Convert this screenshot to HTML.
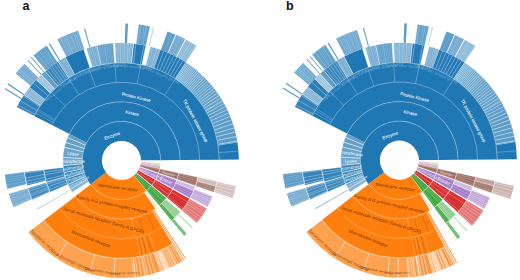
<!DOCTYPE html>
<html><head><meta charset="utf-8"><style>
html,body{margin:0;padding:0;background:#fff;}
body{width:520px;height:280px;overflow:hidden;font-family:"Liberation Sans",sans-serif;}
svg{display:block}
</style></head><body>
<svg width="520" height="280" viewBox="0 0 520 280">
<rect width="520" height="280" fill="#fff"/>
<path d="M90.48,184.44A39.14,39.14 0 1 1 160.59,160.19L141.02,160.35A19.57,19.57 0 1 0 105.97,172.47Z" fill="#1f77b4"/>
<path d="M69.14,133.85A58.71,58.71 0 0 1 180.16,160.04L160.59,160.19A39.14,39.14 0 0 0 86.58,142.73Z" fill="#1f77b4"/>
<path d="M67.41,137.56A58.71,58.71 0 0 1 69.14,133.85L86.58,142.73A39.14,39.14 0 0 0 85.42,145.21Z" fill="#62a0ca"/>
<path d="M65.61,142.36A58.71,58.71 0 0 1 67.41,137.56L85.42,145.21A39.14,39.14 0 0 0 84.23,148.41Z" fill="#62a0ca"/>
<path d="M64.24,147.29A58.71,58.71 0 0 1 65.61,142.36L84.23,148.41A39.14,39.14 0 0 0 83.31,151.70Z" fill="#62a0ca"/>
<path d="M62.82,157.43A58.71,58.71 0 0 1 64.24,147.29L83.31,151.70A39.14,39.14 0 0 0 82.36,158.45Z" fill="#69a4cd"/>
<path d="M62.96,165.62A58.71,58.71 0 0 1 62.82,157.43L82.36,158.45A39.14,39.14 0 0 0 82.46,163.91Z" fill="#70a8cf"/>
<path d="M64.02,172.71A58.71,58.71 0 0 1 62.96,165.62L82.46,163.91A39.14,39.14 0 0 0 83.17,168.64Z" fill="#3a87bd"/>
<path d="M65.61,178.64A58.71,58.71 0 0 1 64.02,172.71L83.17,168.64A39.14,39.14 0 0 0 84.23,172.59Z" fill="#3585bc"/>
<path d="M67.82,184.38A58.71,58.71 0 0 1 65.61,178.64L84.23,172.59A39.14,39.14 0 0 0 85.69,176.42Z" fill="#3e8abe"/>
<path d="M70.10,188.96A58.71,58.71 0 0 1 67.82,184.38L85.69,176.42A39.14,39.14 0 0 0 87.22,179.48Z" fill="#62a0ca"/>
<path d="M72.21,192.48A58.71,58.71 0 0 1 70.10,188.96L87.22,179.48A39.14,39.14 0 0 0 88.62,181.82Z" fill="#84b4d6"/>
<line x1="85.42" y1="145.21" x2="67.41" y2="137.56" stroke="#fff" stroke-width="0.6"/>
<line x1="84.23" y1="148.41" x2="65.61" y2="142.36" stroke="#fff" stroke-width="0.6"/>
<line x1="83.31" y1="151.70" x2="64.24" y2="147.29" stroke="#fff" stroke-width="0.6"/>
<line x1="82.36" y1="158.45" x2="62.82" y2="157.43" stroke="#fff" stroke-width="0.6"/>
<line x1="82.46" y1="163.91" x2="62.96" y2="165.62" stroke="#fff" stroke-width="0.6"/>
<line x1="83.17" y1="168.64" x2="64.02" y2="172.71" stroke="#fff" stroke-width="0.6"/>
<line x1="84.23" y1="172.59" x2="65.61" y2="178.64" stroke="#fff" stroke-width="0.6"/>
<line x1="85.69" y1="176.42" x2="67.82" y2="184.38" stroke="#fff" stroke-width="0.6"/>
<line x1="87.22" y1="179.48" x2="70.10" y2="188.96" stroke="#fff" stroke-width="0.6"/>
<line x1="88.62" y1="181.82" x2="72.21" y2="192.48" stroke="#fff" stroke-width="0.6"/>
<path d="M34.27,116.08A97.85,97.85 0 0 1 219.30,159.73L180.16,160.04A58.71,58.71 0 0 0 69.14,133.85Z" fill="#1f77b4"/>
<line x1="52.98" y1="122.55" x2="35.87" y2="113.06" stroke="#9ac2dd" stroke-width="0.4"/>
<line x1="54.00" y1="120.77" x2="37.14" y2="110.84" stroke="#9ac2dd" stroke-width="0.4"/>
<line x1="54.78" y1="119.48" x2="38.11" y2="109.23" stroke="#9ac2dd" stroke-width="0.4"/>
<line x1="65.33" y1="105.93" x2="51.30" y2="92.28" stroke="#9ac2dd" stroke-width="0.5"/>
<line x1="79.05" y1="94.70" x2="68.44" y2="78.25" stroke="#9ac2dd" stroke-width="0.5"/>
<line x1="95.45" y1="86.66" x2="88.95" y2="68.21" stroke="#9ac2dd" stroke-width="0.5"/>
<line x1="116.26" y1="82.39" x2="114.97" y2="62.87" stroke="#9ac2dd" stroke-width="0.5"/>
<line x1="137.06" y1="83.79" x2="140.96" y2="64.61" stroke="#9ac2dd" stroke-width="0.5"/>
<line x1="164.66" y1="95.22" x2="175.46" y2="78.90" stroke="#9ac2dd" stroke-width="0.5"/>
<path d="M16.83,107.19A117.42,117.42 0 0 1 24.10,94.84L40.33,105.78A97.85,97.85 0 0 0 34.27,116.08Z" fill="#3182ba"/>
<line x1="35.14" y1="114.39" x2="17.88" y2="105.17" stroke="#aacbe2" stroke-width="0.55"/>
<line x1="37.20" y1="110.73" x2="20.35" y2="100.78" stroke="#aacbe2" stroke-width="0.55"/>
<line x1="39.69" y1="106.74" x2="23.34" y2="95.99" stroke="#aacbe2" stroke-width="0.55"/>
<line x1="34.27" y1="116.08" x2="16.83" y2="107.19" stroke="#fff" stroke-width="0.35"/>
<line x1="40.33" y1="105.78" x2="24.10" y2="94.84" stroke="#fff" stroke-width="0.35"/>
<path d="M24.10,94.84A117.42,117.42 0 0 1 29.56,87.40L44.87,99.59A97.85,97.85 0 0 0 40.33,105.78Z" fill="#9cc3de"/>
<line x1="40.75" y1="105.17" x2="24.61" y2="94.10" stroke="#69a4cd" stroke-width="0.55"/>
<line x1="41.64" y1="103.88" x2="25.68" y2="92.56" stroke="#69a4cd" stroke-width="0.55"/>
<line x1="42.58" y1="102.59" x2="26.80" y2="91.00" stroke="#69a4cd" stroke-width="0.55"/>
<line x1="43.31" y1="101.60" x2="27.68" y2="89.82" stroke="#69a4cd" stroke-width="0.55"/>
<line x1="44.40" y1="100.18" x2="28.99" y2="88.12" stroke="#69a4cd" stroke-width="0.55"/>
<line x1="40.33" y1="105.78" x2="24.10" y2="94.84" stroke="#fff" stroke-width="0.35"/>
<line x1="44.87" y1="99.59" x2="29.56" y2="87.40" stroke="#fff" stroke-width="0.35"/>
<path d="M29.56,87.40A117.42,117.42 0 0 1 36.28,79.67L50.47,93.14A97.85,97.85 0 0 0 44.87,99.59Z" fill="#2b7eb8"/>
<line x1="47.97" y1="95.89" x2="33.27" y2="82.96" stroke="#aacbe2" stroke-width="0.55"/>
<line x1="44.87" y1="99.59" x2="29.56" y2="87.40" stroke="#fff" stroke-width="0.35"/>
<line x1="50.47" y1="93.14" x2="36.28" y2="79.67" stroke="#fff" stroke-width="0.35"/>
<path d="M36.28,79.67A117.42,117.42 0 0 1 41.37,74.62L54.72,88.94A97.85,97.85 0 0 0 50.47,93.14Z" fill="#b3d1e6"/>
<line x1="51.14" y1="92.45" x2="37.08" y2="78.84" stroke="#7fb1d4" stroke-width="0.55"/>
<line x1="51.82" y1="91.75" x2="37.89" y2="78.00" stroke="#7fb1d4" stroke-width="0.55"/>
<line x1="52.99" y1="90.59" x2="39.30" y2="76.60" stroke="#7fb1d4" stroke-width="0.55"/>
<line x1="53.95" y1="89.66" x2="40.45" y2="75.49" stroke="#7fb1d4" stroke-width="0.55"/>
<line x1="50.47" y1="93.14" x2="36.28" y2="79.67" stroke="#fff" stroke-width="0.35"/>
<line x1="54.72" y1="88.94" x2="41.37" y2="74.62" stroke="#fff" stroke-width="0.35"/>
<path d="M41.37,74.62A117.42,117.42 0 0 1 45.19,71.21L57.90,86.09A97.85,97.85 0 0 0 54.72,88.94Z" fill="#70a8cf"/>
<line x1="55.40" y1="88.30" x2="42.19" y2="73.87" stroke="#3c89be" stroke-width="0.55"/>
<line x1="56.40" y1="87.41" x2="43.39" y2="72.79" stroke="#3c89be" stroke-width="0.55"/>
<line x1="57.12" y1="86.77" x2="44.25" y2="72.03" stroke="#3c89be" stroke-width="0.55"/>
<line x1="54.72" y1="88.94" x2="41.37" y2="74.62" stroke="#fff" stroke-width="0.35"/>
<line x1="57.90" y1="86.09" x2="45.19" y2="71.21" stroke="#fff" stroke-width="0.35"/>
<path d="M45.19,71.21A117.42,117.42 0 0 1 58.19,61.58L68.73,78.07A97.85,97.85 0 0 0 57.90,86.09Z" fill="#3886bc"/>
<line x1="59.44" y1="84.81" x2="47.03" y2="69.67" stroke="#aacbe2" stroke-width="0.55"/>
<line x1="61.53" y1="83.14" x2="49.54" y2="67.67" stroke="#aacbe2" stroke-width="0.55"/>
<line x1="63.34" y1="81.77" x2="51.72" y2="66.02" stroke="#aacbe2" stroke-width="0.55"/>
<line x1="65.50" y1="80.23" x2="54.30" y2="64.17" stroke="#aacbe2" stroke-width="0.55"/>
<line x1="67.21" y1="79.06" x2="56.37" y2="62.77" stroke="#aacbe2" stroke-width="0.55"/>
<line x1="57.90" y1="86.09" x2="45.19" y2="71.21" stroke="#fff" stroke-width="0.35"/>
<line x1="68.73" y1="78.07" x2="58.19" y2="61.58" stroke="#fff" stroke-width="0.35"/>
<path d="M58.19,61.58A117.42,117.42 0 0 1 65.42,57.31L74.76,74.51A97.85,97.85 0 0 0 68.73,78.07Z" fill="#91bcda"/>
<line x1="69.04" y1="77.87" x2="58.55" y2="61.35" stroke="#5e9dc9" stroke-width="0.55"/>
<line x1="70.53" y1="76.94" x2="60.35" y2="60.23" stroke="#5e9dc9" stroke-width="0.55"/>
<line x1="71.45" y1="76.39" x2="61.45" y2="59.57" stroke="#5e9dc9" stroke-width="0.55"/>
<line x1="72.74" y1="75.64" x2="62.99" y2="58.67" stroke="#5e9dc9" stroke-width="0.55"/>
<line x1="73.99" y1="74.93" x2="64.50" y2="57.82" stroke="#5e9dc9" stroke-width="0.55"/>
<line x1="68.73" y1="78.07" x2="58.19" y2="61.58" stroke="#fff" stroke-width="0.35"/>
<line x1="74.76" y1="74.51" x2="65.42" y2="57.31" stroke="#fff" stroke-width="0.35"/>
<path d="M65.42,57.31A117.42,117.42 0 0 1 83.61,49.34L89.92,67.87A97.85,97.85 0 0 0 74.76,74.51Z" fill="#1f77b4"/>
<line x1="74.76" y1="74.51" x2="65.42" y2="57.31" stroke="#fff" stroke-width="0.35"/>
<line x1="89.92" y1="67.87" x2="83.61" y2="49.34" stroke="#fff" stroke-width="0.35"/>
<path d="M86.53,48.39A117.42,117.42 0 0 1 97.04,45.65L101.11,64.79A97.85,97.85 0 0 0 92.35,67.08Z" fill="#91bcda"/>
<line x1="92.73" y1="66.96" x2="86.99" y2="48.25" stroke="#5e9dc9" stroke-width="0.55"/>
<line x1="94.49" y1="66.44" x2="89.10" y2="47.62" stroke="#5e9dc9" stroke-width="0.55"/>
<line x1="95.93" y1="66.04" x2="90.83" y2="47.14" stroke="#5e9dc9" stroke-width="0.55"/>
<line x1="97.68" y1="65.58" x2="92.93" y2="46.60" stroke="#5e9dc9" stroke-width="0.55"/>
<line x1="98.91" y1="65.28" x2="94.40" y2="46.24" stroke="#5e9dc9" stroke-width="0.55"/>
<line x1="100.47" y1="64.93" x2="96.28" y2="45.81" stroke="#5e9dc9" stroke-width="0.55"/>
<line x1="92.35" y1="67.08" x2="86.53" y2="48.39" stroke="#fff" stroke-width="0.35"/>
<line x1="101.11" y1="64.79" x2="97.04" y2="45.65" stroke="#fff" stroke-width="0.35"/>
<path d="M97.04,45.65A117.42,117.42 0 0 1 113.26,43.37L114.62,62.89A97.85,97.85 0 0 0 101.11,64.79Z" fill="#7db0d4"/>
<line x1="101.85" y1="64.63" x2="97.93" y2="45.46" stroke="#4a91c2" stroke-width="0.55"/>
<line x1="103.46" y1="64.32" x2="99.86" y2="45.08" stroke="#4a91c2" stroke-width="0.55"/>
<line x1="104.80" y1="64.08" x2="101.47" y2="44.79" stroke="#4a91c2" stroke-width="0.55"/>
<line x1="106.16" y1="63.85" x2="103.11" y2="44.52" stroke="#4a91c2" stroke-width="0.55"/>
<line x1="108.21" y1="63.55" x2="105.56" y2="44.16" stroke="#4a91c2" stroke-width="0.55"/>
<line x1="109.71" y1="63.36" x2="107.36" y2="43.93" stroke="#4a91c2" stroke-width="0.55"/>
<line x1="111.10" y1="63.20" x2="109.03" y2="43.74" stroke="#4a91c2" stroke-width="0.55"/>
<line x1="112.51" y1="63.06" x2="110.72" y2="43.57" stroke="#4a91c2" stroke-width="0.55"/>
<line x1="113.73" y1="62.96" x2="112.18" y2="43.45" stroke="#4a91c2" stroke-width="0.55"/>
<line x1="101.11" y1="64.79" x2="97.04" y2="45.65" stroke="#fff" stroke-width="0.35"/>
<line x1="114.62" y1="62.89" x2="113.26" y2="43.37" stroke="#fff" stroke-width="0.35"/>
<path d="M114.90,43.26A117.42,117.42 0 0 1 133.72,43.72L131.68,63.19A97.85,97.85 0 0 0 115.99,62.80Z" fill="#9cc3de"/>
<line x1="116.56" y1="62.77" x2="115.58" y2="43.23" stroke="#69a4cd" stroke-width="0.55"/>
<line x1="118.18" y1="62.70" x2="117.52" y2="43.15" stroke="#69a4cd" stroke-width="0.55"/>
<line x1="119.58" y1="62.67" x2="119.20" y2="43.10" stroke="#69a4cd" stroke-width="0.55"/>
<line x1="121.69" y1="62.65" x2="121.74" y2="43.08" stroke="#69a4cd" stroke-width="0.55"/>
<line x1="122.98" y1="62.66" x2="123.28" y2="43.09" stroke="#69a4cd" stroke-width="0.55"/>
<line x1="124.90" y1="62.71" x2="125.59" y2="43.15" stroke="#69a4cd" stroke-width="0.55"/>
<line x1="126.11" y1="62.76" x2="127.04" y2="43.21" stroke="#69a4cd" stroke-width="0.55"/>
<line x1="128.12" y1="62.88" x2="129.46" y2="43.35" stroke="#69a4cd" stroke-width="0.55"/>
<line x1="129.60" y1="62.99" x2="131.23" y2="43.49" stroke="#69a4cd" stroke-width="0.55"/>
<line x1="130.51" y1="63.07" x2="132.32" y2="43.58" stroke="#69a4cd" stroke-width="0.55"/>
<line x1="115.99" y1="62.80" x2="114.90" y2="43.26" stroke="#fff" stroke-width="0.35"/>
<line x1="131.68" y1="63.19" x2="133.72" y2="43.72" stroke="#fff" stroke-width="0.35"/>
<path d="M133.72,43.72A117.42,117.42 0 0 1 145.86,45.65L141.79,64.79A97.85,97.85 0 0 0 131.68,63.19Z" fill="#247ab6"/>
<line x1="133.48" y1="63.39" x2="135.89" y2="43.97" stroke="#aacbe2" stroke-width="0.55"/>
<line x1="140.31" y1="64.49" x2="144.09" y2="45.28" stroke="#aacbe2" stroke-width="0.55"/>
<line x1="131.68" y1="63.19" x2="133.72" y2="43.72" stroke="#fff" stroke-width="0.35"/>
<line x1="141.79" y1="64.79" x2="145.86" y2="45.65" stroke="#fff" stroke-width="0.35"/>
<path d="M150.45,46.72A117.42,117.42 0 0 1 160.65,49.82L154.11,68.26A97.85,97.85 0 0 0 145.62,65.68Z" fill="#98c0dc"/>
<line x1="146.31" y1="65.86" x2="151.29" y2="46.93" stroke="#64a1cb" stroke-width="0.55"/>
<line x1="148.11" y1="66.35" x2="153.44" y2="47.52" stroke="#64a1cb" stroke-width="0.55"/>
<line x1="149.11" y1="66.64" x2="154.65" y2="47.87" stroke="#64a1cb" stroke-width="0.55"/>
<line x1="150.30" y1="67.00" x2="156.07" y2="48.30" stroke="#64a1cb" stroke-width="0.55"/>
<line x1="152.10" y1="67.58" x2="158.23" y2="48.99" stroke="#64a1cb" stroke-width="0.55"/>
<line x1="153.61" y1="68.09" x2="160.04" y2="49.60" stroke="#64a1cb" stroke-width="0.55"/>
<line x1="145.62" y1="65.68" x2="150.45" y2="46.72" stroke="#fff" stroke-width="0.35"/>
<line x1="154.11" y1="68.26" x2="160.65" y2="49.82" stroke="#fff" stroke-width="0.35"/>
<path d="M160.65,49.82A117.42,117.42 0 0 1 185.92,62.36L175.17,78.72A97.85,97.85 0 0 0 154.11,68.26Z" fill="#237ab6"/>
<line x1="156.83" y1="69.27" x2="163.91" y2="51.03" stroke="#bcd6e8" stroke-width="0.5"/>
<line x1="159.68" y1="70.43" x2="167.33" y2="52.41" stroke="#bcd6e8" stroke-width="0.5"/>
<line x1="162.49" y1="71.67" x2="170.70" y2="53.91" stroke="#bcd6e8" stroke-width="0.5"/>
<line x1="165.11" y1="72.93" x2="173.84" y2="55.42" stroke="#bcd6e8" stroke-width="0.5"/>
<line x1="167.69" y1="74.26" x2="176.94" y2="57.02" stroke="#bcd6e8" stroke-width="0.5"/>
<line x1="170.23" y1="75.67" x2="179.98" y2="58.71" stroke="#bcd6e8" stroke-width="0.5"/>
<line x1="172.72" y1="77.16" x2="182.98" y2="60.49" stroke="#bcd6e8" stroke-width="0.5"/>
<path d="M185.92,62.36A117.42,117.42 0 0 1 204.48,77.47L190.64,91.31A97.85,97.85 0 0 0 175.17,78.72Z" fill="#6ba5ce"/>
<path d="M204.48,77.47A117.42,117.42 0 0 1 223.14,101.79L206.19,111.57A97.85,97.85 0 0 0 190.64,91.31Z" fill="#62a0ca"/>
<path d="M223.14,101.79A117.42,117.42 0 0 1 237.42,142.13L218.10,145.19A97.85,97.85 0 0 0 206.19,111.57Z" fill="#5b9cc8"/>
<line x1="175.17" y1="78.72" x2="185.92" y2="62.36" stroke="#fff" stroke-width="0.45"/>
<line x1="176.11" y1="79.34" x2="187.04" y2="63.11" stroke="#fff" stroke-width="0.45"/>
<line x1="177.08" y1="80.00" x2="188.20" y2="63.90" stroke="#fff" stroke-width="0.45"/>
<line x1="178.07" y1="80.69" x2="189.39" y2="64.73" stroke="#fff" stroke-width="0.45"/>
<line x1="179.08" y1="81.42" x2="190.61" y2="65.61" stroke="#fff" stroke-width="0.45"/>
<line x1="180.13" y1="82.20" x2="191.86" y2="66.54" stroke="#fff" stroke-width="0.45"/>
<line x1="181.20" y1="83.01" x2="193.15" y2="67.51" stroke="#fff" stroke-width="0.45"/>
<line x1="182.30" y1="83.87" x2="194.47" y2="68.54" stroke="#fff" stroke-width="0.45"/>
<line x1="183.42" y1="84.77" x2="195.81" y2="69.63" stroke="#fff" stroke-width="0.45"/>
<line x1="184.57" y1="85.73" x2="197.19" y2="70.78" stroke="#fff" stroke-width="0.45"/>
<line x1="185.75" y1="86.74" x2="198.61" y2="71.99" stroke="#fff" stroke-width="0.45"/>
<line x1="186.95" y1="87.80" x2="200.05" y2="73.27" stroke="#fff" stroke-width="0.45"/>
<line x1="188.17" y1="88.93" x2="201.52" y2="74.61" stroke="#fff" stroke-width="0.45"/>
<line x1="189.42" y1="90.11" x2="203.02" y2="76.04" stroke="#fff" stroke-width="0.45"/>
<line x1="190.70" y1="91.37" x2="204.55" y2="77.54" stroke="#fff" stroke-width="0.45"/>
<line x1="191.99" y1="92.69" x2="206.10" y2="79.12" stroke="#fff" stroke-width="0.45"/>
<line x1="193.31" y1="94.08" x2="207.68" y2="80.80" stroke="#fff" stroke-width="0.45"/>
<line x1="194.64" y1="95.55" x2="209.28" y2="82.56" stroke="#fff" stroke-width="0.45"/>
<line x1="195.99" y1="97.10" x2="210.89" y2="84.43" stroke="#fff" stroke-width="0.45"/>
<line x1="197.35" y1="98.74" x2="212.53" y2="86.39" stroke="#fff" stroke-width="0.45"/>
<line x1="198.72" y1="100.47" x2="214.18" y2="88.46" stroke="#fff" stroke-width="0.5"/>
<line x1="200.10" y1="102.29" x2="215.83" y2="90.65" stroke="#fff" stroke-width="0.5"/>
<line x1="201.49" y1="104.21" x2="217.50" y2="92.96" stroke="#fff" stroke-width="0.5"/>
<line x1="202.88" y1="106.24" x2="219.16" y2="95.39" stroke="#fff" stroke-width="0.5"/>
<line x1="204.26" y1="108.37" x2="220.82" y2="97.95" stroke="#fff" stroke-width="0.5"/>
<line x1="205.63" y1="110.62" x2="222.47" y2="100.64" stroke="#fff" stroke-width="0.5"/>
<line x1="206.99" y1="112.99" x2="224.10" y2="103.48" stroke="#fff" stroke-width="0.5"/>
<line x1="208.33" y1="115.48" x2="225.70" y2="106.47" stroke="#fff" stroke-width="0.5"/>
<line x1="209.64" y1="118.10" x2="227.27" y2="109.62" stroke="#fff" stroke-width="0.5"/>
<line x1="210.91" y1="120.85" x2="228.80" y2="112.92" stroke="#fff" stroke-width="0.5"/>
<line x1="212.13" y1="123.75" x2="230.27" y2="116.39" stroke="#fff" stroke-width="0.5"/>
<line x1="213.31" y1="126.78" x2="231.68" y2="120.04" stroke="#fff" stroke-width="0.5"/>
<line x1="214.42" y1="129.97" x2="233.01" y2="123.86" stroke="#fff" stroke-width="0.5"/>
<line x1="215.45" y1="133.31" x2="234.25" y2="127.87" stroke="#fff" stroke-width="0.5"/>
<line x1="216.39" y1="136.81" x2="235.38" y2="132.07" stroke="#fff" stroke-width="0.5"/>
<line x1="217.23" y1="140.46" x2="236.38" y2="136.46" stroke="#fff" stroke-width="0.5"/>
<line x1="217.95" y1="144.28" x2="237.25" y2="141.04" stroke="#fff" stroke-width="0.5"/>
<path d="M237.42,142.13A117.42,117.42 0 0 1 238.87,159.58L219.30,159.73A97.85,97.85 0 0 0 218.10,145.19Z" fill="#1f77b4"/>
<line x1="218.98" y1="152.65" x2="238.49" y2="151.08" stroke="#9ac2dd" stroke-width="0.5"/>
<line x1="218.10" y1="145.19" x2="237.42" y2="142.13" stroke="#9ac2dd" stroke-width="0.5"/>
<path d="M15.59,73.55A136.99,136.99 0 0 1 24.58,63.63L38.42,77.47A117.42,117.42 0 0 0 30.72,85.97Z" fill="#8bb8d8"/>
<line x1="31.12" y1="85.48" x2="16.06" y2="72.98" stroke="#5799c7" stroke-width="0.55"/>
<line x1="32.08" y1="84.34" x2="17.18" y2="71.65" stroke="#5799c7" stroke-width="0.55"/>
<line x1="33.28" y1="82.95" x2="18.59" y2="70.03" stroke="#5799c7" stroke-width="0.55"/>
<line x1="34.72" y1="81.35" x2="20.27" y2="68.15" stroke="#5799c7" stroke-width="0.55"/>
<line x1="35.72" y1="80.27" x2="21.43" y2="66.89" stroke="#5799c7" stroke-width="0.55"/>
<line x1="36.48" y1="79.45" x2="22.32" y2="65.95" stroke="#5799c7" stroke-width="0.55"/>
<line x1="37.70" y1="78.20" x2="23.74" y2="64.48" stroke="#5799c7" stroke-width="0.55"/>
<line x1="30.72" y1="85.97" x2="15.59" y2="73.55" stroke="#fff" stroke-width="0.35"/>
<line x1="38.42" y1="77.47" x2="24.58" y2="63.63" stroke="#fff" stroke-width="0.35"/>
<path d="M33.39,55.56A136.99,136.99 0 0 1 46.84,45.61L57.50,62.02A117.42,117.42 0 0 0 45.97,70.55Z" fill="#79add2"/>
<line x1="46.34" y1="70.24" x2="33.82" y2="55.20" stroke="#458ec1" stroke-width="0.55"/>
<line x1="47.55" y1="69.25" x2="35.23" y2="54.05" stroke="#458ec1" stroke-width="0.55"/>
<line x1="49.26" y1="67.90" x2="37.22" y2="52.46" stroke="#458ec1" stroke-width="0.55"/>
<line x1="50.13" y1="67.22" x2="38.24" y2="51.68" stroke="#458ec1" stroke-width="0.55"/>
<line x1="51.64" y1="66.08" x2="40.01" y2="50.35" stroke="#458ec1" stroke-width="0.55"/>
<line x1="52.86" y1="65.20" x2="41.43" y2="49.31" stroke="#458ec1" stroke-width="0.55"/>
<line x1="53.99" y1="64.39" x2="42.75" y2="48.37" stroke="#458ec1" stroke-width="0.55"/>
<line x1="55.66" y1="63.24" x2="44.69" y2="47.03" stroke="#458ec1" stroke-width="0.55"/>
<line x1="56.59" y1="62.62" x2="45.78" y2="46.31" stroke="#458ec1" stroke-width="0.55"/>
<line x1="45.97" y1="70.55" x2="33.39" y2="55.56" stroke="#fff" stroke-width="0.35"/>
<line x1="57.50" y1="62.02" x2="46.84" y2="45.61" stroke="#fff" stroke-width="0.35"/>
<path d="M57.14,39.55A136.99,136.99 0 0 1 78.21,30.51L84.39,49.08A117.42,117.42 0 0 0 66.32,56.82Z" fill="#8bb8d8"/>
<line x1="67.09" y1="56.42" x2="58.03" y2="39.07" stroke="#5799c7" stroke-width="0.55"/>
<line x1="68.08" y1="55.91" x2="59.19" y2="38.48" stroke="#5799c7" stroke-width="0.55"/>
<line x1="69.64" y1="55.13" x2="61.00" y2="37.57" stroke="#5799c7" stroke-width="0.55"/>
<line x1="70.86" y1="54.54" x2="62.43" y2="36.88" stroke="#5799c7" stroke-width="0.55"/>
<line x1="72.27" y1="53.88" x2="64.07" y2="36.11" stroke="#5799c7" stroke-width="0.55"/>
<line x1="74.13" y1="53.04" x2="66.25" y2="35.13" stroke="#5799c7" stroke-width="0.55"/>
<line x1="75.40" y1="52.48" x2="67.73" y2="34.48" stroke="#5799c7" stroke-width="0.55"/>
<line x1="76.45" y1="52.04" x2="68.95" y2="33.97" stroke="#5799c7" stroke-width="0.55"/>
<line x1="78.26" y1="51.31" x2="71.06" y2="33.11" stroke="#5799c7" stroke-width="0.55"/>
<line x1="79.20" y1="50.95" x2="72.15" y2="32.69" stroke="#5799c7" stroke-width="0.55"/>
<line x1="80.74" y1="50.36" x2="73.96" y2="32.01" stroke="#5799c7" stroke-width="0.55"/>
<line x1="82.49" y1="49.73" x2="76.00" y2="31.27" stroke="#5799c7" stroke-width="0.55"/>
<line x1="83.77" y1="49.29" x2="77.49" y2="30.75" stroke="#5799c7" stroke-width="0.55"/>
<line x1="66.32" y1="56.82" x2="57.14" y2="39.55" stroke="#fff" stroke-width="0.35"/>
<line x1="84.39" y1="49.08" x2="78.21" y2="30.51" stroke="#fff" stroke-width="0.35"/>
<path d="M138.62,24.59A136.99,136.99 0 0 1 150.17,26.55L146.06,45.69A117.42,117.42 0 0 0 136.17,44.01Z" fill="#7db0d4"/>
<line x1="136.66" y1="44.07" x2="139.20" y2="24.66" stroke="#4a91c2" stroke-width="0.55"/>
<line x1="139.06" y1="44.41" x2="141.99" y2="25.06" stroke="#4a91c2" stroke-width="0.55"/>
<line x1="140.07" y1="44.57" x2="143.17" y2="25.24" stroke="#4a91c2" stroke-width="0.55"/>
<line x1="141.76" y1="44.85" x2="145.14" y2="25.57" stroke="#4a91c2" stroke-width="0.55"/>
<line x1="143.83" y1="45.23" x2="147.56" y2="26.02" stroke="#4a91c2" stroke-width="0.55"/>
<line x1="145.10" y1="45.49" x2="149.05" y2="26.32" stroke="#4a91c2" stroke-width="0.55"/>
<line x1="136.17" y1="44.01" x2="138.62" y2="24.59" stroke="#fff" stroke-width="0.35"/>
<line x1="146.06" y1="45.69" x2="150.17" y2="26.55" stroke="#fff" stroke-width="0.35"/>
<path d="M167.40,31.45A136.99,136.99 0 0 1 175.64,34.68L167.89,52.66A117.42,117.42 0 0 0 160.84,49.88Z" fill="#72a9d0"/>
<line x1="161.41" y1="50.09" x2="168.07" y2="31.69" stroke="#3e8abe" stroke-width="0.55"/>
<line x1="162.67" y1="50.55" x2="169.54" y2="32.23" stroke="#3e8abe" stroke-width="0.55"/>
<line x1="164.10" y1="51.10" x2="171.21" y2="32.87" stroke="#3e8abe" stroke-width="0.55"/>
<line x1="165.86" y1="51.80" x2="173.26" y2="33.68" stroke="#3e8abe" stroke-width="0.55"/>
<line x1="167.02" y1="52.28" x2="174.61" y2="34.25" stroke="#3e8abe" stroke-width="0.55"/>
<line x1="160.84" y1="49.88" x2="167.40" y2="31.45" stroke="#fff" stroke-width="0.35"/>
<line x1="167.89" y1="52.66" x2="175.64" y2="34.68" stroke="#fff" stroke-width="0.35"/>
<path d="M176.07,34.87A136.99,136.99 0 0 1 185.34,39.32L176.21,56.63A117.42,117.42 0 0 0 168.27,52.82Z" fill="#8bb8d8"/>
<line x1="169.01" y1="53.14" x2="176.94" y2="35.25" stroke="#5799c7" stroke-width="0.55"/>
<line x1="170.20" y1="53.68" x2="178.32" y2="35.87" stroke="#5799c7" stroke-width="0.55"/>
<line x1="171.58" y1="54.32" x2="179.94" y2="36.62" stroke="#5799c7" stroke-width="0.55"/>
<line x1="173.24" y1="55.12" x2="181.87" y2="37.56" stroke="#5799c7" stroke-width="0.55"/>
<line x1="174.24" y1="55.62" x2="183.04" y2="38.14" stroke="#5799c7" stroke-width="0.55"/>
<line x1="175.61" y1="56.32" x2="184.64" y2="38.95" stroke="#5799c7" stroke-width="0.55"/>
<line x1="168.27" y1="52.82" x2="176.07" y2="34.87" stroke="#fff" stroke-width="0.35"/>
<line x1="176.21" y1="56.63" x2="185.34" y2="39.32" stroke="#fff" stroke-width="0.35"/>
<path d="M185.76,39.55A136.99,136.99 0 0 1 196.66,46.00L185.92,62.36A117.42,117.42 0 0 0 176.58,56.82Z" fill="#a5c9e1"/>
<line x1="177.51" y1="57.33" x2="186.85" y2="40.13" stroke="#72a9d0" stroke-width="0.55"/>
<line x1="178.40" y1="57.82" x2="187.90" y2="40.70" stroke="#72a9d0" stroke-width="0.55"/>
<line x1="179.74" y1="58.57" x2="189.45" y2="41.58" stroke="#72a9d0" stroke-width="0.55"/>
<line x1="181.58" y1="59.65" x2="191.60" y2="42.84" stroke="#72a9d0" stroke-width="0.55"/>
<line x1="182.85" y1="60.41" x2="193.08" y2="43.73" stroke="#72a9d0" stroke-width="0.55"/>
<line x1="183.79" y1="61.00" x2="194.18" y2="44.41" stroke="#72a9d0" stroke-width="0.55"/>
<line x1="185.06" y1="61.81" x2="195.67" y2="45.36" stroke="#72a9d0" stroke-width="0.55"/>
<line x1="176.58" y1="56.82" x2="185.76" y2="39.55" stroke="#fff" stroke-width="0.35"/>
<line x1="185.92" y1="62.36" x2="196.66" y2="46.00" stroke="#fff" stroke-width="0.35"/>
<path d="M4.55,89.09A136.99,136.99 0 0 1 5.25,87.95L21.85,98.31A117.42,117.42 0 0 0 21.25,99.29Z" fill="#62a0ca"/>
<path d="M7.51,84.45A136.99,136.99 0 0 1 8.26,83.34L24.43,94.36A117.42,117.42 0 0 0 23.78,95.32Z" fill="#62a0ca"/>
<path d="M27.64,60.67A136.99,136.99 0 0 1 28.41,59.95L41.70,74.32A117.42,117.42 0 0 0 41.04,74.93Z" fill="#74abd0"/>
<path d="M30.82,57.77A136.99,136.99 0 0 1 31.61,57.08L44.45,71.86A117.42,117.42 0 0 0 43.77,72.45Z" fill="#74abd0"/>
<path d="M48.90,44.30A136.99,136.99 0 0 1 50.04,43.60L60.24,60.30A117.42,117.42 0 0 0 59.26,60.90Z" fill="#67a3cc"/>
<path d="M83.92,28.75A136.99,136.99 0 0 1 85.30,28.37L90.47,47.24A117.42,117.42 0 0 0 89.28,47.57Z" fill="#7db0d4"/>
<path d="M125.39,23.57A136.99,136.99 0 0 1 128.02,23.67L127.08,43.22A117.42,117.42 0 0 0 124.83,43.13Z" fill="#5e9dc9"/>
<path d="M153.08,27.21A136.99,136.99 0 0 1 154.24,27.49L149.56,46.49A117.42,117.42 0 0 0 148.56,46.25Z" fill="#c0d9ea"/>
<path d="M46.20,182.08A78.28,78.28 0 0 1 43.72,169.77L63.15,167.45A58.71,58.71 0 0 0 65.01,176.68Z" fill="#3182ba"/>
<line x1="64.51" y1="174.80" x2="45.53" y2="179.57" stroke="#aacbe2" stroke-width="0.55"/>
<line x1="63.77" y1="171.43" x2="44.54" y2="175.07" stroke="#aacbe2" stroke-width="0.55"/>
<line x1="63.43" y1="169.48" x2="44.09" y2="172.47" stroke="#aacbe2" stroke-width="0.55"/>
<line x1="65.01" y1="176.68" x2="46.20" y2="182.08" stroke="#fff" stroke-width="0.35"/>
<line x1="63.15" y1="167.45" x2="43.72" y2="169.77" stroke="#fff" stroke-width="0.35"/>
<path d="M49.94,192.34A78.28,78.28 0 0 1 46.35,182.60L65.13,177.08A58.71,58.71 0 0 0 67.82,184.38Z" fill="#3987bd"/>
<line x1="67.08" y1="182.65" x2="48.95" y2="190.03" stroke="#aacbe2" stroke-width="0.55"/>
<line x1="66.18" y1="180.31" x2="47.76" y2="186.91" stroke="#aacbe2" stroke-width="0.55"/>
<line x1="65.47" y1="178.19" x2="46.81" y2="184.09" stroke="#aacbe2" stroke-width="0.55"/>
<line x1="67.82" y1="184.38" x2="49.94" y2="192.34" stroke="#fff" stroke-width="0.35"/>
<line x1="65.13" y1="177.08" x2="46.35" y2="182.60" stroke="#fff" stroke-width="0.35"/>
<path d="M26.93,185.83A97.85,97.85 0 0 1 24.29,172.09L43.72,169.77A78.28,78.28 0 0 0 45.84,180.76Z" fill="#3584bb"/>
<line x1="45.51" y1="179.51" x2="26.53" y2="184.26" stroke="#aacbe2" stroke-width="0.55"/>
<line x1="44.98" y1="177.22" x2="25.86" y2="181.40" stroke="#aacbe2" stroke-width="0.55"/>
<line x1="44.44" y1="174.56" x2="25.19" y2="178.08" stroke="#aacbe2" stroke-width="0.55"/>
<line x1="43.81" y1="170.52" x2="24.40" y2="173.02" stroke="#aacbe2" stroke-width="0.55"/>
<line x1="45.84" y1="180.76" x2="26.93" y2="185.83" stroke="#fff" stroke-width="0.35"/>
<line x1="43.72" y1="169.77" x2="24.29" y2="172.09" stroke="#fff" stroke-width="0.35"/>
<path d="M31.92,199.99A97.85,97.85 0 0 1 27.58,188.13L46.35,182.60A78.28,78.28 0 0 0 49.83,192.09Z" fill="#3f8abf"/>
<line x1="49.53" y1="191.41" x2="31.55" y2="199.13" stroke="#aacbe2" stroke-width="0.55"/>
<line x1="48.58" y1="189.10" x2="30.36" y2="196.25" stroke="#aacbe2" stroke-width="0.55"/>
<line x1="48.02" y1="187.63" x2="29.67" y2="194.42" stroke="#aacbe2" stroke-width="0.55"/>
<line x1="47.16" y1="185.18" x2="28.59" y2="191.35" stroke="#aacbe2" stroke-width="0.55"/>
<line x1="46.62" y1="183.48" x2="27.91" y2="189.22" stroke="#aacbe2" stroke-width="0.55"/>
<line x1="49.83" y1="192.09" x2="31.92" y2="199.99" stroke="#fff" stroke-width="0.35"/>
<line x1="46.35" y1="182.60" x2="27.58" y2="188.13" stroke="#fff" stroke-width="0.35"/>
<path d="M7.52,188.91A117.42,117.42 0 0 1 4.86,174.40L24.29,172.09A97.85,97.85 0 0 0 26.51,184.17Z" fill="#76acd1"/>
<line x1="26.36" y1="183.58" x2="7.34" y2="188.20" stroke="#438dc0" stroke-width="0.55"/>
<line x1="26.03" y1="182.17" x2="6.95" y2="186.51" stroke="#438dc0" stroke-width="0.55"/>
<line x1="25.62" y1="180.26" x2="6.45" y2="184.21" stroke="#438dc0" stroke-width="0.55"/>
<line x1="25.41" y1="179.24" x2="6.20" y2="182.99" stroke="#438dc0" stroke-width="0.55"/>
<line x1="25.11" y1="177.61" x2="5.84" y2="181.04" stroke="#438dc0" stroke-width="0.55"/>
<line x1="24.81" y1="175.85" x2="5.48" y2="178.92" stroke="#438dc0" stroke-width="0.55"/>
<line x1="24.55" y1="174.10" x2="5.17" y2="176.82" stroke="#438dc0" stroke-width="0.55"/>
<line x1="24.37" y1="172.76" x2="4.96" y2="175.21" stroke="#438dc0" stroke-width="0.55"/>
<line x1="26.51" y1="184.17" x2="7.52" y2="188.91" stroke="#fff" stroke-width="0.35"/>
<line x1="24.29" y1="172.09" x2="4.86" y2="174.40" stroke="#fff" stroke-width="0.35"/>
<path d="M13.69,207.13A117.42,117.42 0 0 1 8.81,193.65L27.58,188.13A97.85,97.85 0 0 0 31.65,199.36Z" fill="#91bcda"/>
<line x1="31.42" y1="198.83" x2="13.41" y2="206.49" stroke="#5e9dc9" stroke-width="0.55"/>
<line x1="30.66" y1="197.00" x2="12.51" y2="204.31" stroke="#5e9dc9" stroke-width="0.55"/>
<line x1="30.31" y1="196.11" x2="12.08" y2="203.23" stroke="#5e9dc9" stroke-width="0.55"/>
<line x1="29.83" y1="194.85" x2="11.50" y2="201.72" stroke="#5e9dc9" stroke-width="0.55"/>
<line x1="29.25" y1="193.27" x2="10.81" y2="199.82" stroke="#5e9dc9" stroke-width="0.55"/>
<line x1="28.72" y1="191.73" x2="10.17" y2="197.97" stroke="#5e9dc9" stroke-width="0.55"/>
<line x1="28.34" y1="190.58" x2="9.72" y2="196.60" stroke="#5e9dc9" stroke-width="0.55"/>
<line x1="27.87" y1="189.07" x2="9.15" y2="194.79" stroke="#5e9dc9" stroke-width="0.55"/>
<line x1="31.65" y1="199.36" x2="13.69" y2="207.13" stroke="#fff" stroke-width="0.35"/>
<line x1="27.58" y1="188.13" x2="8.81" y2="193.65" stroke="#fff" stroke-width="0.35"/>
<path d="M37.77,209.30A96.87,96.87 0 0 1 37.39,208.64L69.65,190.16A59.69,59.69 0 0 0 69.89,190.57Z" fill="#7db0d4"/>
<path d="M49.94,192.34A78.28,78.28 0 0 1 43.72,169.77" fill="none" stroke="#fff" stroke-width="0.6"/>
<path d="M32.06,200.30A97.85,97.85 0 0 1 24.29,172.09" fill="none" stroke="#fff" stroke-width="0.6"/>
<path d="M86.58,142.73A39.14,39.14 0 0 1 160.59,160.50" fill="none" stroke="#9ac2dd" stroke-width="0.6"/>
<path d="M69.14,133.85A58.71,58.71 0 0 1 180.16,160.50" fill="none" stroke="#9ac2dd" stroke-width="0.6"/>
<path d="M51.70,124.96A78.28,78.28 0 0 1 199.73,160.50" fill="none" stroke="#9ac2dd" stroke-width="0.6"/>
<path d="M34.27,116.08A97.85,97.85 0 0 1 219.30,160.50" fill="none" stroke="#9ac2dd" stroke-width="0.6"/>
<path d="M90.48,184.44A39.14,39.14 0 0 1 86.58,142.73" fill="none" stroke="#9ac2dd" stroke-width="0.6"/>
<path d="M75.00,196.40A58.71,58.71 0 0 1 69.14,133.85" fill="none" stroke="#fff" stroke-width="0.5"/>
<path d="M151.72,162.51A30.33,30.33 0 0 1 151.54,164.30L140.87,162.95A19.57,19.57 0 0 0 140.98,161.80Z" fill="#f2c2e4"/>
<path d="M160.50,163.09A39.14,39.14 0 0 1 160.28,165.41L151.54,164.30A30.33,30.33 0 0 0 151.72,162.51Z" fill="#e4e5a7"/>
<path d="M160.28,165.41A39.14,39.14 0 0 1 160.04,167.03L140.75,163.76A19.57,19.57 0 0 0 140.87,162.95Z" fill="#cfbbe1"/>
<path d="M160.04,167.03A39.14,39.14 0 0 1 159.69,168.84L140.57,164.67A19.57,19.57 0 0 0 140.75,163.76Z" fill="#cbb3ae"/>
<path d="M159.69,168.84A39.14,39.14 0 0 1 158.46,173.24L139.95,166.87A19.57,19.57 0 0 0 140.57,164.67Z" fill="#98675d"/>
<line x1="140.46" y1="165.15" x2="159.47" y2="169.81" stroke="#cbb3ae" stroke-width="0.45"/>
<line x1="140.12" y1="166.37" x2="158.79" y2="172.23" stroke="#cbb3ae" stroke-width="0.45"/>
<line x1="140.57" y1="164.67" x2="159.69" y2="168.84" stroke="#fff" stroke-width="0.35"/>
<line x1="139.95" y1="166.87" x2="158.46" y2="173.24" stroke="#fff" stroke-width="0.35"/>
<path d="M178.81,173.01A58.71,58.71 0 0 1 176.96,179.61L158.46,173.24A39.14,39.14 0 0 0 159.69,168.84Z" fill="#9a6a61"/>
<line x1="159.59" y1="169.31" x2="178.65" y2="173.71" stroke="#cbb3ae" stroke-width="0.45"/>
<line x1="159.17" y1="170.96" x2="178.03" y2="176.19" stroke="#cbb3ae" stroke-width="0.45"/>
<line x1="158.61" y1="172.80" x2="177.18" y2="178.95" stroke="#cbb3ae" stroke-width="0.45"/>
<line x1="159.69" y1="168.84" x2="178.81" y2="173.01" stroke="#fff" stroke-width="0.35"/>
<line x1="158.46" y1="173.24" x2="176.96" y2="179.61" stroke="#fff" stroke-width="0.35"/>
<path d="M197.93,177.18A78.28,78.28 0 0 1 195.47,185.99L176.96,179.61A58.71,58.71 0 0 0 178.81,173.01Z" fill="#9c6e64"/>
<line x1="178.53" y1="174.25" x2="197.55" y2="178.83" stroke="#cbb3ae" stroke-width="0.45"/>
<line x1="178.17" y1="175.64" x2="197.08" y2="180.69" stroke="#cbb3ae" stroke-width="0.45"/>
<line x1="177.70" y1="177.32" x2="196.45" y2="182.93" stroke="#cbb3ae" stroke-width="0.45"/>
<line x1="177.21" y1="178.87" x2="195.80" y2="184.99" stroke="#cbb3ae" stroke-width="0.45"/>
<line x1="178.81" y1="173.01" x2="197.93" y2="177.18" stroke="#fff" stroke-width="0.35"/>
<line x1="176.96" y1="179.61" x2="195.47" y2="185.99" stroke="#fff" stroke-width="0.35"/>
<path d="M217.05,181.35A97.85,97.85 0 0 1 215.83,186.32L196.96,181.16A78.28,78.28 0 0 0 197.93,177.18Z" fill="#c8aea9"/>
<line x1="197.84" y1="177.60" x2="216.94" y2="181.88" stroke="#eee6e4" stroke-width="0.45"/>
<line x1="197.55" y1="178.86" x2="216.57" y2="183.45" stroke="#eee6e4" stroke-width="0.45"/>
<line x1="197.22" y1="180.18" x2="216.16" y2="185.10" stroke="#eee6e4" stroke-width="0.45"/>
<line x1="197.93" y1="177.18" x2="217.05" y2="181.35" stroke="#fff" stroke-width="0.35"/>
<line x1="196.96" y1="181.16" x2="215.83" y2="186.32" stroke="#fff" stroke-width="0.35"/>
<path d="M215.83,186.32A97.85,97.85 0 0 1 213.97,192.36L195.47,185.99A78.28,78.28 0 0 0 196.96,181.16Z" fill="#a1746b"/>
<line x1="196.72" y1="182.01" x2="215.53" y2="187.39" stroke="#cbb3ae" stroke-width="0.45"/>
<line x1="196.40" y1="183.10" x2="215.13" y2="188.75" stroke="#cbb3ae" stroke-width="0.45"/>
<line x1="195.97" y1="184.46" x2="214.60" y2="190.46" stroke="#cbb3ae" stroke-width="0.45"/>
<line x1="195.76" y1="185.10" x2="214.34" y2="191.25" stroke="#cbb3ae" stroke-width="0.45"/>
<line x1="196.96" y1="181.16" x2="215.83" y2="186.32" stroke="#fff" stroke-width="0.35"/>
<line x1="195.47" y1="185.99" x2="213.97" y2="192.36" stroke="#fff" stroke-width="0.35"/>
<path d="M236.04,186.11A117.42,117.42 0 0 1 232.61,198.34L214.08,192.03A97.85,97.85 0 0 0 216.94,181.85Z" fill="#d3bfbb"/>
<line x1="216.60" y1="183.31" x2="235.63" y2="187.87" stroke="#f6f1f1" stroke-width="0.45"/>
<line x1="216.00" y1="185.68" x2="234.92" y2="190.71" stroke="#f6f1f1" stroke-width="0.45"/>
<line x1="215.20" y1="188.54" x2="233.94" y2="194.15" stroke="#f6f1f1" stroke-width="0.45"/>
<line x1="214.57" y1="190.55" x2="233.20" y2="196.56" stroke="#f6f1f1" stroke-width="0.45"/>
<line x1="216.94" y1="181.85" x2="236.04" y2="186.11" stroke="#fff" stroke-width="0.35"/>
<line x1="214.08" y1="192.03" x2="232.61" y2="198.34" stroke="#fff" stroke-width="0.35"/>
<path d="M158.37,173.50A39.14,39.14 0 0 1 155.75,179.36L138.60,169.93A19.57,19.57 0 0 0 139.91,167.00Z" fill="#a782c9"/>
<line x1="139.47" y1="168.12" x2="157.50" y2="175.75" stroke="#cfbbe1" stroke-width="0.45"/>
<line x1="139.12" y1="168.91" x2="156.79" y2="177.32" stroke="#cfbbe1" stroke-width="0.45"/>
<line x1="139.91" y1="167.00" x2="158.37" y2="173.50" stroke="#fff" stroke-width="0.35"/>
<line x1="138.60" y1="169.93" x2="155.75" y2="179.36" stroke="#fff" stroke-width="0.35"/>
<path d="M176.83,180.00A58.71,58.71 0 0 1 172.90,188.78L155.75,179.36A39.14,39.14 0 0 0 158.37,173.50Z" fill="#a179c5"/>
<line x1="158.08" y1="174.29" x2="176.40" y2="181.18" stroke="#cfbbe1" stroke-width="0.45"/>
<line x1="157.42" y1="175.92" x2="175.41" y2="183.63" stroke="#cfbbe1" stroke-width="0.45"/>
<line x1="156.70" y1="177.50" x2="174.33" y2="186.00" stroke="#cfbbe1" stroke-width="0.45"/>
<line x1="156.04" y1="178.82" x2="173.33" y2="187.98" stroke="#cfbbe1" stroke-width="0.45"/>
<line x1="158.37" y1="173.50" x2="176.83" y2="180.00" stroke="#fff" stroke-width="0.35"/>
<line x1="155.75" y1="179.36" x2="172.90" y2="188.78" stroke="#fff" stroke-width="0.35"/>
<path d="M195.29,186.50A78.28,78.28 0 0 1 193.72,190.58L175.65,183.06A58.71,58.71 0 0 0 176.83,180.00Z" fill="#c4abdb"/>
<line x1="176.60" y1="180.62" x2="194.99" y2="187.33" stroke="#eae1f2" stroke-width="0.45"/>
<line x1="176.20" y1="181.69" x2="194.45" y2="188.75" stroke="#eae1f2" stroke-width="0.45"/>
<line x1="175.77" y1="182.77" x2="193.88" y2="190.19" stroke="#eae1f2" stroke-width="0.45"/>
<line x1="176.83" y1="180.00" x2="195.29" y2="186.50" stroke="#fff" stroke-width="0.35"/>
<line x1="175.65" y1="183.06" x2="193.72" y2="190.58" stroke="#fff" stroke-width="0.35"/>
<path d="M193.72,190.58A78.28,78.28 0 0 1 190.05,198.21L172.90,188.78A58.71,58.71 0 0 0 175.65,183.06Z" fill="#a37cc6"/>
<line x1="175.39" y1="183.68" x2="193.37" y2="191.41" stroke="#cfbbe1" stroke-width="0.45"/>
<line x1="174.63" y1="185.38" x2="192.36" y2="193.67" stroke="#cfbbe1" stroke-width="0.45"/>
<line x1="173.86" y1="186.96" x2="191.33" y2="195.78" stroke="#cfbbe1" stroke-width="0.45"/>
<line x1="173.14" y1="188.35" x2="190.37" y2="197.63" stroke="#cfbbe1" stroke-width="0.45"/>
<line x1="175.65" y1="183.06" x2="193.72" y2="190.58" stroke="#fff" stroke-width="0.35"/>
<line x1="172.90" y1="188.78" x2="190.05" y2="198.21" stroke="#fff" stroke-width="0.35"/>
<path d="M212.49,196.36A97.85,97.85 0 0 1 207.52,207.04L190.31,197.73A78.28,78.28 0 0 0 194.28,189.19Z" fill="#bfa4d7"/>
<line x1="194.02" y1="189.86" x2="212.16" y2="197.20" stroke="#eae1f2" stroke-width="0.45"/>
<line x1="193.30" y1="191.58" x2="211.26" y2="199.35" stroke="#eae1f2" stroke-width="0.45"/>
<line x1="192.63" y1="193.07" x2="210.43" y2="201.21" stroke="#eae1f2" stroke-width="0.45"/>
<line x1="192.06" y1="194.28" x2="209.72" y2="202.73" stroke="#eae1f2" stroke-width="0.45"/>
<line x1="191.35" y1="195.73" x2="208.83" y2="204.54" stroke="#eae1f2" stroke-width="0.45"/>
<line x1="190.72" y1="196.96" x2="208.04" y2="206.07" stroke="#eae1f2" stroke-width="0.45"/>
<line x1="194.28" y1="189.19" x2="212.49" y2="196.36" stroke="#fff" stroke-width="0.35"/>
<line x1="190.31" y1="197.73" x2="207.52" y2="207.04" stroke="#fff" stroke-width="0.35"/>
<path d="M155.62,179.59A39.14,39.14 0 0 1 151.69,185.34L136.57,172.92A19.57,19.57 0 0 0 138.53,170.05Z" fill="#d83031"/>
<line x1="137.54" y1="171.65" x2="153.62" y2="182.79" stroke="#ed9e9e" stroke-width="0.45"/>
<line x1="138.53" y1="170.05" x2="155.62" y2="179.59" stroke="#fff" stroke-width="0.35"/>
<line x1="136.57" y1="172.92" x2="151.69" y2="185.34" stroke="#fff" stroke-width="0.35"/>
<path d="M172.70,189.14A58.71,58.71 0 0 1 166.82,197.77L151.69,185.34A39.14,39.14 0 0 0 155.62,179.59Z" fill="#d83233"/>
<line x1="154.63" y1="181.26" x2="171.22" y2="191.64" stroke="#ed9e9e" stroke-width="0.45"/>
<line x1="153.20" y1="183.38" x2="169.08" y2="194.83" stroke="#ed9e9e" stroke-width="0.45"/>
<line x1="155.62" y1="179.59" x2="172.70" y2="189.14" stroke="#fff" stroke-width="0.35"/>
<line x1="151.69" y1="185.34" x2="166.82" y2="197.77" stroke="#fff" stroke-width="0.35"/>
<path d="M189.78,198.69A78.28,78.28 0 0 1 181.94,210.19L166.82,197.77A58.71,58.71 0 0 0 172.70,189.14Z" fill="#d83233"/>
<line x1="171.18" y1="191.70" x2="187.76" y2="202.10" stroke="#ed9e9e" stroke-width="0.45"/>
<line x1="167.65" y1="196.73" x2="183.04" y2="208.81" stroke="#ed9e9e" stroke-width="0.45"/>
<line x1="172.70" y1="189.14" x2="189.78" y2="198.69" stroke="#fff" stroke-width="0.35"/>
<line x1="166.82" y1="197.77" x2="181.94" y2="210.19" stroke="#fff" stroke-width="0.35"/>
<path d="M206.78,208.39A97.85,97.85 0 0 1 196.84,222.87L181.77,210.40A78.28,78.28 0 0 0 189.72,198.81Z" fill="#e57575"/>
<line x1="188.91" y1="200.21" x2="205.77" y2="210.14" stroke="#f5c9c9" stroke-width="0.45"/>
<line x1="187.78" y1="202.06" x2="204.37" y2="212.46" stroke="#f5c9c9" stroke-width="0.45"/>
<line x1="186.73" y1="203.70" x2="203.05" y2="214.50" stroke="#f5c9c9" stroke-width="0.45"/>
<line x1="185.17" y1="205.97" x2="201.10" y2="217.34" stroke="#f5c9c9" stroke-width="0.45"/>
<line x1="183.89" y1="207.71" x2="199.50" y2="219.52" stroke="#f5c9c9" stroke-width="0.45"/>
<line x1="182.55" y1="209.43" x2="197.83" y2="221.67" stroke="#f5c9c9" stroke-width="0.45"/>
<line x1="189.72" y1="198.81" x2="206.78" y2="208.39" stroke="#fff" stroke-width="0.35"/>
<line x1="181.77" y1="210.40" x2="196.84" y2="222.87" stroke="#fff" stroke-width="0.35"/>
<path d="M151.52,185.55A39.14,39.14 0 0 1 146.45,190.61L133.95,175.56A19.57,19.57 0 0 0 136.49,173.03Z" fill="#37a537"/>
<line x1="135.69" y1="173.92" x2="149.93" y2="187.35" stroke="#a0d4a0" stroke-width="0.45"/>
<line x1="134.90" y1="174.71" x2="148.35" y2="188.93" stroke="#a0d4a0" stroke-width="0.45"/>
<line x1="136.49" y1="173.03" x2="151.52" y2="185.55" stroke="#fff" stroke-width="0.35"/>
<line x1="133.95" y1="175.56" x2="146.45" y2="190.61" stroke="#fff" stroke-width="0.35"/>
<path d="M166.56,198.08A58.71,58.71 0 0 1 159.03,205.61L146.50,190.57A39.14,39.14 0 0 0 151.52,185.55Z" fill="#41aa41"/>
<line x1="150.55" y1="186.67" x2="165.10" y2="199.76" stroke="#a0d4a0" stroke-width="0.45"/>
<line x1="149.52" y1="187.78" x2="163.55" y2="201.42" stroke="#a0d4a0" stroke-width="0.45"/>
<line x1="147.31" y1="189.88" x2="160.24" y2="204.57" stroke="#a0d4a0" stroke-width="0.45"/>
<line x1="151.52" y1="185.55" x2="166.56" y2="198.08" stroke="#fff" stroke-width="0.35"/>
<line x1="146.50" y1="190.57" x2="159.03" y2="205.61" stroke="#fff" stroke-width="0.35"/>
<path d="M180.53,211.86A78.28,78.28 0 0 1 174.84,217.75L161.49,203.44A58.71,58.71 0 0 0 165.76,199.02Z" fill="#89ca89"/>
<line x1="165.36" y1="199.47" x2="180.00" y2="212.46" stroke="#d5ecd5" stroke-width="0.45"/>
<line x1="164.64" y1="200.27" x2="179.04" y2="213.52" stroke="#d5ecd5" stroke-width="0.45"/>
<line x1="163.60" y1="201.37" x2="177.65" y2="214.99" stroke="#d5ecd5" stroke-width="0.45"/>
<line x1="162.82" y1="202.16" x2="176.61" y2="216.04" stroke="#d5ecd5" stroke-width="0.45"/>
<line x1="161.89" y1="203.06" x2="175.37" y2="217.25" stroke="#d5ecd5" stroke-width="0.45"/>
<line x1="165.76" y1="199.02" x2="180.53" y2="211.86" stroke="#fff" stroke-width="0.35"/>
<line x1="161.49" y1="203.44" x2="174.84" y2="217.75" stroke="#fff" stroke-width="0.35"/>
<path d="M174.84,217.75A78.28,78.28 0 0 1 171.56,220.64L159.03,205.61A58.71,58.71 0 0 0 161.49,203.44Z" fill="#39a639"/>
<line x1="160.63" y1="204.22" x2="173.69" y2="218.80" stroke="#a0d4a0" stroke-width="0.45"/>
<line x1="159.81" y1="204.95" x2="172.59" y2="219.76" stroke="#a0d4a0" stroke-width="0.45"/>
<line x1="161.49" y1="203.44" x2="174.84" y2="217.75" stroke="#fff" stroke-width="0.35"/>
<line x1="159.03" y1="205.61" x2="171.56" y2="220.64" stroke="#fff" stroke-width="0.35"/>
<path d="M186.42,233.67A97.85,97.85 0 0 1 184.35,235.46L171.77,220.47A78.28,78.28 0 0 0 173.42,219.04Z" fill="#7cc47c"/>
<path d="M184.80,235.07A97.85,97.85 0 0 1 184.35,235.46L171.77,220.47A78.28,78.28 0 0 0 172.13,220.16Z" fill="#4cae4c"/>
<path d="M186.42,233.67A97.85,97.85 0 0 1 186.10,233.95L173.17,219.26A78.28,78.28 0 0 0 173.42,219.04Z" fill="#56b356"/>
<path d="M192.78,227.48A97.85,97.85 0 0 1 192.07,228.23L177.95,214.68A78.28,78.28 0 0 0 178.51,214.09Z" fill="#afdbaf"/>
<path d="M159.69,168.84A39.14,39.14 0 0 1 158.46,173.24" fill="none" stroke="#fff" stroke-width="0.5"/>
<path d="M178.81,173.01A58.71,58.71 0 0 1 176.96,179.61" fill="none" stroke="#fff" stroke-width="0.5"/>
<path d="M197.93,177.18A78.28,78.28 0 0 1 195.47,185.99" fill="none" stroke="#fff" stroke-width="0.5"/>
<path d="M217.05,181.35A97.85,97.85 0 0 1 213.97,192.36" fill="none" stroke="#fff" stroke-width="0.5"/>
<path d="M158.37,173.50A39.14,39.14 0 0 1 155.75,179.36" fill="none" stroke="#fff" stroke-width="0.5"/>
<path d="M176.83,180.00A58.71,58.71 0 0 1 172.90,188.78" fill="none" stroke="#fff" stroke-width="0.5"/>
<path d="M195.29,186.50A78.28,78.28 0 0 1 190.05,198.21" fill="none" stroke="#fff" stroke-width="0.5"/>
<path d="M155.62,179.59A39.14,39.14 0 0 1 151.69,185.34" fill="none" stroke="#fff" stroke-width="0.5"/>
<path d="M172.70,189.14A58.71,58.71 0 0 1 166.82,197.77" fill="none" stroke="#fff" stroke-width="0.5"/>
<path d="M189.78,198.69A78.28,78.28 0 0 1 181.94,210.19" fill="none" stroke="#fff" stroke-width="0.5"/>
<path d="M151.52,185.55A39.14,39.14 0 0 1 146.50,190.57" fill="none" stroke="#fff" stroke-width="0.5"/>
<path d="M166.56,198.08A58.71,58.71 0 0 1 159.03,205.61" fill="none" stroke="#fff" stroke-width="0.5"/>
<path d="M181.59,210.61A78.28,78.28 0 0 1 171.56,220.64" fill="none" stroke="#fff" stroke-width="0.5"/>
<line x1="139.93" y1="166.94" x2="195.38" y2="186.24" stroke="#fff" stroke-width="0.5"/>
<line x1="138.57" y1="169.99" x2="189.92" y2="198.45" stroke="#fff" stroke-width="0.5"/>
<line x1="136.53" y1="172.97" x2="181.77" y2="210.40" stroke="#fff" stroke-width="0.5"/>
<path d="M146.29,190.74A39.14,39.14 0 0 1 90.48,184.44L105.97,172.47A19.57,19.57 0 0 0 133.87,175.62Z" fill="#ff7f0e"/>
<path d="M155.29,208.47A58.71,58.71 0 0 1 75.00,196.40L90.48,184.44A39.14,39.14 0 0 0 144.01,192.48Z" fill="#ff7f0e"/>
<path d="M172.43,244.02A97.85,97.85 0 0 1 44.03,220.34L75.00,196.40A58.71,58.71 0 0 0 152.04,210.61Z" fill="#ff7f0e"/>
<path d="M157.27,207.02A58.71,58.71 0 0 1 156.86,207.33L145.06,191.72A39.14,39.14 0 0 0 145.33,191.51Z" fill="#ffa556"/>
<line x1="153.60" y1="209.63" x2="185.74" y2="258.75" stroke="#e06c05" stroke-width="0.7"/>
<line x1="152.74" y1="210.18" x2="184.02" y2="259.86" stroke="#e06c05" stroke-width="0.7"/>
<path d="M146.29,190.74A39.14,39.14 0 0 1 90.48,184.44" fill="none" stroke="#ffb97a" stroke-width="0.6"/>
<path d="M152.04,210.61A58.71,58.71 0 0 1 75.00,196.40" fill="none" stroke="#ffb97a" stroke-width="0.6"/>
<path d="M162.23,227.32A78.28,78.28 0 0 1 59.51,208.37" fill="none" stroke="#ffb97a" stroke-width="0.6"/>
<line x1="136.92" y1="237.24" x2="140.79" y2="256.42" stroke="#ffb97a" stroke-width="0.5"/>
<line x1="139.86" y1="236.59" x2="144.46" y2="255.61" stroke="#ffb97a" stroke-width="0.5"/>
<line x1="143.68" y1="235.56" x2="149.24" y2="254.32" stroke="#ffb97a" stroke-width="0.5"/>
<line x1="148.99" y1="233.77" x2="155.88" y2="252.09" stroke="#ffb97a" stroke-width="0.5"/>
<line x1="131.64" y1="218.32" x2="135.04" y2="237.59" stroke="#ffb97a" stroke-width="0.5"/>
<path d="M182.63,260.72A117.42,117.42 0 0 1 28.54,232.31L44.03,220.34A97.85,97.85 0 0 0 172.43,244.02Z" fill="#ffa24f"/>
<path d="M145.86,275.35A117.42,117.42 0 0 1 133.72,277.28L131.68,257.81A97.85,97.85 0 0 0 141.79,256.21Z" fill="#ff993f"/>
<line x1="141.15" y1="256.35" x2="145.09" y2="275.51" stroke="#fff" stroke-width="0.5"/>
<line x1="138.27" y1="256.89" x2="141.64" y2="276.17" stroke="#fff" stroke-width="0.5"/>
<line x1="135.26" y1="257.37" x2="138.03" y2="276.74" stroke="#fff" stroke-width="0.5"/>
<line x1="133.33" y1="257.63" x2="135.71" y2="277.05" stroke="#fff" stroke-width="0.5"/>
<line x1="141.79" y1="256.21" x2="145.86" y2="275.35" stroke="#fff" stroke-width="0.35"/>
<line x1="131.68" y1="257.81" x2="133.72" y2="277.28" stroke="#fff" stroke-width="0.35"/>
<path d="M161.61,270.84A117.42,117.42 0 0 1 145.86,275.35L141.79,256.21A97.85,97.85 0 0 0 154.92,252.45Z" fill="#ff9d47"/>
<line x1="153.84" y1="252.83" x2="160.32" y2="271.30" stroke="#fff" stroke-width="0.5"/>
<line x1="149.40" y1="254.27" x2="154.98" y2="273.03" stroke="#fff" stroke-width="0.5"/>
<line x1="146.51" y1="255.09" x2="151.52" y2="274.00" stroke="#fff" stroke-width="0.5"/>
<line x1="143.56" y1="255.82" x2="147.98" y2="274.88" stroke="#fff" stroke-width="0.5"/>
<line x1="154.92" y1="252.45" x2="161.61" y2="270.84" stroke="#fff" stroke-width="0.35"/>
<line x1="141.79" y1="256.21" x2="145.86" y2="275.35" stroke="#fff" stroke-width="0.35"/>
<path d="M164.29,269.82A117.42,117.42 0 0 1 161.61,270.84L154.92,252.45A97.85,97.85 0 0 0 157.15,251.60Z" fill="#ffaa5f"/>
<line x1="155.60" y1="252.20" x2="162.43" y2="270.54" stroke="#fff" stroke-width="0.5"/>
<line x1="157.15" y1="251.60" x2="164.29" y2="269.82" stroke="#fff" stroke-width="0.35"/>
<line x1="154.92" y1="252.45" x2="161.61" y2="270.84" stroke="#fff" stroke-width="0.35"/>
<path d="M168.46,268.10A117.42,117.42 0 0 1 164.29,269.82L157.15,251.60A97.85,97.85 0 0 0 160.62,250.17Z" fill="#ffe3ca"/>
<line x1="159.91" y1="250.47" x2="167.60" y2="268.47" stroke="#ffa556" stroke-width="0.4"/>
<line x1="157.88" y1="251.32" x2="165.17" y2="269.48" stroke="#ffa556" stroke-width="0.4"/>
<line x1="160.62" y1="250.17" x2="168.46" y2="268.10" stroke="#fff" stroke-width="0.35"/>
<line x1="157.15" y1="251.60" x2="164.29" y2="269.82" stroke="#fff" stroke-width="0.35"/>
<path d="M176.58,264.18A117.42,117.42 0 0 1 168.46,268.10L160.62,250.17A97.85,97.85 0 0 0 167.39,246.90Z" fill="#ffb16c"/>
<line x1="166.81" y1="247.20" x2="175.88" y2="264.54" stroke="#fff" stroke-width="0.5"/>
<line x1="164.94" y1="248.15" x2="173.64" y2="265.69" stroke="#fff" stroke-width="0.5"/>
<line x1="162.93" y1="249.12" x2="171.23" y2="266.85" stroke="#fff" stroke-width="0.5"/>
<line x1="161.13" y1="249.94" x2="169.06" y2="267.83" stroke="#fff" stroke-width="0.5"/>
<line x1="167.39" y1="246.90" x2="176.58" y2="264.18" stroke="#fff" stroke-width="0.35"/>
<line x1="160.62" y1="250.17" x2="168.46" y2="268.10" stroke="#fff" stroke-width="0.35"/>
<path d="M182.63,260.72A117.42,117.42 0 0 1 176.58,264.18L167.39,246.90A97.85,97.85 0 0 0 172.43,244.02Z" fill="#ff9b42"/>
<line x1="170.71" y1="245.05" x2="180.56" y2="261.96" stroke="#fff" stroke-width="0.5"/>
<line x1="168.81" y1="246.12" x2="178.28" y2="263.25" stroke="#fff" stroke-width="0.5"/>
<line x1="172.43" y1="244.02" x2="182.63" y2="260.72" stroke="#fff" stroke-width="0.35"/>
<line x1="167.39" y1="246.90" x2="176.58" y2="264.18" stroke="#fff" stroke-width="0.35"/>
<line x1="152.50" y1="253.29" x2="158.71" y2="271.85" stroke="#be8040" stroke-width="0.35"/>
<line x1="148.09" y1="254.65" x2="153.42" y2="273.48" stroke="#be8040" stroke-width="0.35"/>
<line x1="145.12" y1="255.44" x2="149.86" y2="274.43" stroke="#be8040" stroke-width="0.35"/>
<line x1="165.11" y1="248.07" x2="173.84" y2="265.58" stroke="#be8040" stroke-width="0.35"/>
<line x1="162.80" y1="249.18" x2="171.07" y2="266.92" stroke="#be8040" stroke-width="0.35"/>
<line x1="169.63" y1="245.66" x2="179.27" y2="262.70" stroke="#be8040" stroke-width="0.35"/>
<line x1="67.44" y1="242.10" x2="56.64" y2="258.41" stroke="#fff" stroke-width="0.55"/>
<line x1="94.81" y1="254.65" x2="89.48" y2="273.48" stroke="#fff" stroke-width="0.55"/>
<line x1="115.14" y1="258.15" x2="113.87" y2="277.68" stroke="#fff" stroke-width="0.55"/>
<line x1="133.04" y1="257.66" x2="135.35" y2="277.09" stroke="#fff" stroke-width="0.55"/>
<path d="M172.43,244.02A97.85,97.85 0 0 1 44.03,220.34" fill="none" stroke="#fff" stroke-width="0.5"/>
<text x="0" y="0" transform="translate(112.17,135.68) rotate(339.50)" text-anchor="middle" dy="0.35em" font-family="Liberation Sans, sans-serif" font-size="4.55" fill="#fff" fill-opacity="1.0" stroke="#fff" stroke-width="0.07" stroke-opacity="0.70">Enzyme</text>
<text x="0" y="0" transform="translate(132.11,113.19) rotate(12.70)" text-anchor="middle" dy="0.35em" font-family="Liberation Sans, sans-serif" font-size="4.55" fill="#fff" fill-opacity="1.0" stroke="#fff" stroke-width="0.07" stroke-opacity="0.70">Kinase</text>
<text x="0" y="0" transform="translate(136.29,97.22) rotate(13.20)" text-anchor="middle" dy="0.35em" font-family="Liberation Sans, sans-serif" font-size="4.55" fill="#fff" fill-opacity="1.0" stroke="#fff" stroke-width="0.07" stroke-opacity="0.70">Protein Kinase</text>
<text x="0" y="0" transform="translate(195.48,120.81) rotate(61.80)" text-anchor="middle" dy="0.35em" font-family="Liberation Sans, sans-serif" font-size="4.55" fill="#fff" fill-opacity="1.0" stroke="#fff" stroke-width="0.07" stroke-opacity="0.70">TK protein kinase group</text>
<text x="0" y="0" transform="translate(157.61,73.19) rotate(22.50)" text-anchor="middle" dy="0.35em" font-family="Liberation Sans, sans-serif" font-size="4.4" fill="#fff" fill-opacity="0.3" stroke="#fff" stroke-width="0.07" stroke-opacity="0.21">Tkl protein kinase group</text>
<text x="0" y="0" transform="translate(127.80,66.21) rotate(3.85)" text-anchor="middle" dy="0.35em" font-family="Liberation Sans, sans-serif" font-size="4.0" fill="#fff" fill-opacity="0.3" stroke="#fff" stroke-width="0.07" stroke-opacity="0.21">CMGC protein kinase group</text>
<text x="0" y="0" transform="translate(102.45,67.93) rotate(348.40)" text-anchor="middle" dy="0.35em" font-family="Liberation Sans, sans-serif" font-size="4.0" fill="#fff" fill-opacity="0.3" stroke="#fff" stroke-width="0.07" stroke-opacity="0.21">Other protein kinase group</text>
<text x="0" y="0" transform="translate(79.88,75.64) rotate(333.90)" text-anchor="middle" dy="0.35em" font-family="Liberation Sans, sans-serif" font-size="4.0" fill="#fff" fill-opacity="0.3" stroke="#fff" stroke-width="0.07" stroke-opacity="0.21">AGC protein kinase group</text>
<text x="0" y="0" transform="translate(61.60,87.37) rotate(320.70)" text-anchor="middle" dy="0.35em" font-family="Liberation Sans, sans-serif" font-size="4.0" fill="#fff" fill-opacity="0.3" stroke="#fff" stroke-width="0.07" stroke-opacity="0.21">CAMK protein kinase group</text>
<text x="0" y="0" transform="translate(73.17,153.72) rotate(8.00)" text-anchor="middle" dy="0.35em" font-family="Liberation Sans, sans-serif" font-size="4.55" fill="#fff" fill-opacity="0.95" stroke="#fff" stroke-width="0.07" stroke-opacity="0.66">Lyase</text>
<text x="0" y="0" transform="translate(72.71,161.35) rotate(-1.00)" text-anchor="middle" dy="0.35em" font-family="Liberation Sans, sans-serif" font-size="4.55" fill="#fff" fill-opacity="0.9" stroke="#fff" stroke-width="0.07" stroke-opacity="0.63">Transferase</text>
<text x="0" y="0" transform="translate(73.24,167.71) rotate(-8.50)" text-anchor="middle" dy="0.35em" font-family="Liberation Sans, sans-serif" font-size="4.55" fill="#fff" fill-opacity="0.8" stroke="#fff" stroke-width="0.07" stroke-opacity="0.56">Isomerase</text>
<text x="0" y="0" transform="translate(74.36,173.12) rotate(-15.00)" text-anchor="middle" dy="0.35em" font-family="Liberation Sans, sans-serif" font-size="4.55" fill="#fff" fill-opacity="0.8" stroke="#fff" stroke-width="0.07" stroke-opacity="0.56">Hydrolase</text>
<text x="0" y="0" transform="translate(75.94,177.97) rotate(-21.00)" text-anchor="middle" dy="0.35em" font-family="Liberation Sans, sans-serif" font-size="4.55" fill="#fff" fill-opacity="0.8" stroke="#fff" stroke-width="0.07" stroke-opacity="0.56">Protease</text>
<text x="0" y="0" transform="translate(77.82,182.25) rotate(-26.50)" text-anchor="middle" dy="0.35em" font-family="Liberation Sans, sans-serif" font-size="3.6" fill="#fff" fill-opacity="0.7" stroke="#fff" stroke-width="0.07" stroke-opacity="0.49">Oxidoreductase</text>
<line x1="138.60" y1="237.88" x2="142.21" y2="254.12" stroke="#5a2d00" stroke-width="0.5" stroke-opacity="0.45"/>
<line x1="141.96" y1="237.06" x2="146.27" y2="253.13" stroke="#5a2d00" stroke-width="0.5" stroke-opacity="0.45"/>
<line x1="146.60" y1="235.66" x2="151.88" y2="251.44" stroke="#5a2d00" stroke-width="0.5" stroke-opacity="0.4"/>
<line x1="147.57" y1="215.26" x2="154.31" y2="229.39" stroke="#5a2d00" stroke-width="0.5" stroke-opacity="0.4"/>
<line x1="139.19" y1="218.52" x2="143.76" y2="233.49" stroke="#5a2d00" stroke-width="0.5" stroke-opacity="0.35"/>
<text x="0" y="0" transform="translate(166.18,180.51) rotate(24.10)" text-anchor="middle" dy="0.35em" font-family="Liberation Sans, sans-serif" font-size="4.55" fill="#fff" fill-opacity="0.8" stroke="#fff" stroke-width="0.07" stroke-opacity="0.56">Eraser</text>
<text x="0" y="0" transform="translate(168.64,173.68) rotate(15.60)" text-anchor="middle" dy="0.35em" font-family="Liberation Sans, sans-serif" font-size="4.0" fill="#fff" fill-opacity="0.6" stroke="#fff" stroke-width="0.07" stroke-opacity="0.42">Reader</text>
<text x="0" y="0" transform="translate(148.84,172.75) rotate(24.10)" text-anchor="middle" dy="0.35em" font-family="Liberation Sans, sans-serif" font-size="3.4" fill="#fff" fill-opacity="0.5" stroke="#fff" stroke-width="0.07" stroke-opacity="0.35">Epigenetic regulator</text>
<text x="0" y="0" transform="translate(117.95,187.47) rotate(7.40)" text-anchor="middle" dy="0.35em" font-family="Liberation Sans, sans-serif" font-size="4.55" fill="#5a2d00" fill-opacity="0.85" stroke="#5a2d00" stroke-width="0.07" stroke-opacity="0.59">Membrane receptor</text>
<text x="0" y="0" transform="translate(112.11,204.42) rotate(12.00)" text-anchor="middle" dy="0.35em" font-family="Liberation Sans, sans-serif" font-size="4.55" fill="#5a2d00" fill-opacity="0.85" stroke="#5a2d00" stroke-width="0.07" stroke-opacity="0.59">Family A G protein-coupled receptor</text>
<text x="0" y="0" transform="translate(103.94,220.39) rotate(16.30)" text-anchor="middle" dy="0.35em" font-family="Liberation Sans, sans-serif" font-size="4.55" fill="#5a2d00" fill-opacity="0.85" stroke="#5a2d00" stroke-width="0.07" stroke-opacity="0.59">Small molecule receptor (family A GPCR)</text>
<text x="0" y="0" transform="translate(91.14,239.05) rotate(21.10)" text-anchor="middle" dy="0.35em" font-family="Liberation Sans, sans-serif" font-size="4.55" fill="#5a2d00" fill-opacity="0.85" stroke="#5a2d00" stroke-width="0.07" stroke-opacity="0.59">Monoamine receptor</text>
<text x="0" y="0" transform="translate(44.87,242.91) rotate(42.90)" text-anchor="middle" dy="0.35em" font-family="Liberation Sans, sans-serif" font-size="4.55" fill="#5a2d00" fill-opacity="0.7" stroke="#5a2d00" stroke-width="0.07" stroke-opacity="0.49">Serotonin receptor</text>
<text x="0" y="0" transform="translate(74.53,262.75) rotate(24.65)" text-anchor="middle" dy="0.35em" font-family="Liberation Sans, sans-serif" font-size="4.55" fill="#5a2d00" fill-opacity="0.7" stroke="#5a2d00" stroke-width="0.07" stroke-opacity="0.49">Adrenergic receptor</text>
<text x="0" y="0" transform="translate(102.40,271.38) rotate(9.75)" text-anchor="middle" dy="0.35em" font-family="Liberation Sans, sans-serif" font-size="4.2" fill="#5a2d00" fill-opacity="0.65" stroke="#5a2d00" stroke-width="0.07" stroke-opacity="0.45">Dopamine receptor</text>
<text x="0" y="0" transform="translate(124.59,272.96) rotate(-1.60)" text-anchor="middle" dy="0.35em" font-family="Liberation Sans, sans-serif" font-size="3.6" fill="#5a2d00" fill-opacity="0.55" stroke="#5a2d00" stroke-width="0.07" stroke-opacity="0.39">Histamine receptor</text>
<path d="M368.43,184.14A39.14,39.14 0 1 1 438.54,159.89L418.97,160.05A19.57,19.57 0 1 0 383.92,172.17Z" fill="#1f77b4"/>
<path d="M347.09,133.55A58.71,58.71 0 0 1 458.11,159.74L438.54,159.89A39.14,39.14 0 0 0 364.53,142.43Z" fill="#1f77b4"/>
<path d="M345.36,137.26A58.71,58.71 0 0 1 347.09,133.55L364.53,142.43A39.14,39.14 0 0 0 363.37,144.91Z" fill="#62a0ca"/>
<path d="M343.56,142.06A58.71,58.71 0 0 1 345.36,137.26L363.37,144.91A39.14,39.14 0 0 0 362.18,148.11Z" fill="#62a0ca"/>
<path d="M342.19,146.99A58.71,58.71 0 0 1 343.56,142.06L362.18,148.11A39.14,39.14 0 0 0 361.26,151.40Z" fill="#62a0ca"/>
<path d="M340.77,157.13A58.71,58.71 0 0 1 342.19,146.99L361.26,151.40A39.14,39.14 0 0 0 360.31,158.15Z" fill="#69a4cd"/>
<path d="M340.91,165.32A58.71,58.71 0 0 1 340.77,157.13L360.31,158.15A39.14,39.14 0 0 0 360.41,163.61Z" fill="#70a8cf"/>
<path d="M341.97,172.41A58.71,58.71 0 0 1 340.91,165.32L360.41,163.61A39.14,39.14 0 0 0 361.12,168.34Z" fill="#3a87bd"/>
<path d="M343.56,178.34A58.71,58.71 0 0 1 341.97,172.41L361.12,168.34A39.14,39.14 0 0 0 362.18,172.29Z" fill="#3585bc"/>
<path d="M345.77,184.08A58.71,58.71 0 0 1 343.56,178.34L362.18,172.29A39.14,39.14 0 0 0 363.64,176.12Z" fill="#3e8abe"/>
<path d="M348.05,188.66A58.71,58.71 0 0 1 345.77,184.08L363.64,176.12A39.14,39.14 0 0 0 365.17,179.18Z" fill="#62a0ca"/>
<path d="M350.16,192.18A58.71,58.71 0 0 1 348.05,188.66L365.17,179.18A39.14,39.14 0 0 0 366.57,181.52Z" fill="#84b4d6"/>
<line x1="363.37" y1="144.91" x2="345.36" y2="137.26" stroke="#fff" stroke-width="0.6"/>
<line x1="362.18" y1="148.11" x2="343.56" y2="142.06" stroke="#fff" stroke-width="0.6"/>
<line x1="361.26" y1="151.40" x2="342.19" y2="146.99" stroke="#fff" stroke-width="0.6"/>
<line x1="360.31" y1="158.15" x2="340.77" y2="157.13" stroke="#fff" stroke-width="0.6"/>
<line x1="360.41" y1="163.61" x2="340.91" y2="165.32" stroke="#fff" stroke-width="0.6"/>
<line x1="361.12" y1="168.34" x2="341.97" y2="172.41" stroke="#fff" stroke-width="0.6"/>
<line x1="362.18" y1="172.29" x2="343.56" y2="178.34" stroke="#fff" stroke-width="0.6"/>
<line x1="363.64" y1="176.12" x2="345.77" y2="184.08" stroke="#fff" stroke-width="0.6"/>
<line x1="365.17" y1="179.18" x2="348.05" y2="188.66" stroke="#fff" stroke-width="0.6"/>
<line x1="366.57" y1="181.52" x2="350.16" y2="192.18" stroke="#fff" stroke-width="0.6"/>
<path d="M312.22,115.78A97.85,97.85 0 0 1 497.25,159.43L458.11,159.74A58.71,58.71 0 0 0 347.09,133.55Z" fill="#1f77b4"/>
<line x1="330.96" y1="122.20" x2="313.86" y2="112.70" stroke="#9ac2dd" stroke-width="0.4"/>
<line x1="332.01" y1="120.38" x2="315.16" y2="110.42" stroke="#9ac2dd" stroke-width="0.4"/>
<line x1="332.80" y1="119.06" x2="316.15" y2="108.78" stroke="#9ac2dd" stroke-width="0.4"/>
<line x1="343.65" y1="105.25" x2="329.71" y2="91.52" stroke="#9ac2dd" stroke-width="0.5"/>
<line x1="357.46" y1="94.11" x2="346.97" y2="77.58" stroke="#9ac2dd" stroke-width="0.5"/>
<line x1="373.91" y1="86.18" x2="367.54" y2="67.68" stroke="#9ac2dd" stroke-width="0.5"/>
<line x1="394.76" y1="82.06" x2="393.60" y2="62.52" stroke="#9ac2dd" stroke-width="0.5"/>
<line x1="415.54" y1="83.60" x2="419.58" y2="64.45" stroke="#9ac2dd" stroke-width="0.5"/>
<line x1="443.06" y1="95.23" x2="453.98" y2="78.98" stroke="#9ac2dd" stroke-width="0.5"/>
<path d="M294.78,106.89A117.42,117.42 0 0 1 302.23,94.28L318.43,105.26A97.85,97.85 0 0 0 312.22,115.78Z" fill="#3182ba"/>
<line x1="313.11" y1="114.06" x2="295.86" y2="104.83" stroke="#aacbe2" stroke-width="0.55"/>
<line x1="315.22" y1="110.32" x2="298.38" y2="100.34" stroke="#aacbe2" stroke-width="0.55"/>
<line x1="317.77" y1="106.24" x2="301.45" y2="95.44" stroke="#aacbe2" stroke-width="0.55"/>
<line x1="312.22" y1="115.78" x2="294.78" y2="106.89" stroke="#fff" stroke-width="0.35"/>
<line x1="318.43" y1="105.26" x2="302.23" y2="94.28" stroke="#fff" stroke-width="0.35"/>
<path d="M302.23,94.28A117.42,117.42 0 0 1 307.83,86.70L323.09,98.95A97.85,97.85 0 0 0 318.43,105.26Z" fill="#9cc3de"/>
<line x1="318.86" y1="104.64" x2="302.75" y2="93.52" stroke="#69a4cd" stroke-width="0.55"/>
<line x1="319.78" y1="103.32" x2="303.85" y2="91.95" stroke="#69a4cd" stroke-width="0.55"/>
<line x1="320.74" y1="102.00" x2="305.01" y2="90.36" stroke="#69a4cd" stroke-width="0.55"/>
<line x1="321.49" y1="101.00" x2="305.91" y2="89.16" stroke="#69a4cd" stroke-width="0.55"/>
<line x1="322.61" y1="99.55" x2="307.25" y2="87.42" stroke="#69a4cd" stroke-width="0.55"/>
<line x1="318.43" y1="105.26" x2="302.23" y2="94.28" stroke="#fff" stroke-width="0.35"/>
<line x1="323.09" y1="98.95" x2="307.83" y2="86.70" stroke="#fff" stroke-width="0.35"/>
<path d="M307.83,86.70A117.42,117.42 0 0 1 314.75,78.83L328.85,92.39A97.85,97.85 0 0 0 323.09,98.95Z" fill="#2b7eb8"/>
<line x1="326.28" y1="95.18" x2="311.65" y2="82.18" stroke="#aacbe2" stroke-width="0.55"/>
<line x1="323.09" y1="98.95" x2="307.83" y2="86.70" stroke="#fff" stroke-width="0.35"/>
<line x1="328.85" y1="92.39" x2="314.75" y2="78.83" stroke="#fff" stroke-width="0.35"/>
<path d="M314.75,78.83A117.42,117.42 0 0 1 319.92,73.77L333.17,88.17A97.85,97.85 0 0 0 328.85,92.39Z" fill="#b3d1e6"/>
<line x1="329.53" y1="91.69" x2="315.56" y2="77.99" stroke="#7fb1d4" stroke-width="0.55"/>
<line x1="330.22" y1="90.99" x2="316.39" y2="77.15" stroke="#7fb1d4" stroke-width="0.55"/>
<line x1="331.41" y1="89.83" x2="317.82" y2="75.75" stroke="#7fb1d4" stroke-width="0.55"/>
<line x1="332.39" y1="88.90" x2="318.99" y2="74.64" stroke="#7fb1d4" stroke-width="0.55"/>
<line x1="328.85" y1="92.39" x2="314.75" y2="78.83" stroke="#fff" stroke-width="0.35"/>
<line x1="333.17" y1="88.17" x2="319.92" y2="73.77" stroke="#fff" stroke-width="0.35"/>
<path d="M319.92,73.77A117.42,117.42 0 0 1 323.77,70.38L336.37,85.35A97.85,97.85 0 0 0 333.17,88.17Z" fill="#70a8cf"/>
<line x1="333.86" y1="87.55" x2="320.75" y2="73.01" stroke="#3c89be" stroke-width="0.55"/>
<line x1="334.86" y1="86.65" x2="321.95" y2="71.95" stroke="#3c89be" stroke-width="0.55"/>
<line x1="335.58" y1="86.02" x2="322.82" y2="71.19" stroke="#3c89be" stroke-width="0.55"/>
<line x1="333.17" y1="88.17" x2="319.92" y2="73.77" stroke="#fff" stroke-width="0.35"/>
<line x1="336.37" y1="85.35" x2="323.77" y2="70.38" stroke="#fff" stroke-width="0.35"/>
<path d="M323.77,70.38A117.42,117.42 0 0 1 336.83,60.84L347.26,77.40A97.85,97.85 0 0 0 336.37,85.35Z" fill="#3886bc"/>
<line x1="337.92" y1="84.08" x2="325.62" y2="68.86" stroke="#aacbe2" stroke-width="0.55"/>
<line x1="340.02" y1="82.43" x2="328.14" y2="66.87" stroke="#aacbe2" stroke-width="0.55"/>
<line x1="341.85" y1="81.07" x2="330.34" y2="65.24" stroke="#aacbe2" stroke-width="0.55"/>
<line x1="344.01" y1="79.54" x2="332.93" y2="63.41" stroke="#aacbe2" stroke-width="0.55"/>
<line x1="345.73" y1="78.38" x2="335.00" y2="62.02" stroke="#aacbe2" stroke-width="0.55"/>
<line x1="336.37" y1="85.35" x2="323.77" y2="70.38" stroke="#fff" stroke-width="0.35"/>
<line x1="347.26" y1="77.40" x2="336.83" y2="60.84" stroke="#fff" stroke-width="0.35"/>
<path d="M336.83,60.84A117.42,117.42 0 0 1 344.09,56.62L353.31,73.88A97.85,97.85 0 0 0 347.26,77.40Z" fill="#91bcda"/>
<line x1="347.56" y1="77.21" x2="337.20" y2="60.61" stroke="#5e9dc9" stroke-width="0.55"/>
<line x1="349.06" y1="76.29" x2="339.00" y2="59.51" stroke="#5e9dc9" stroke-width="0.55"/>
<line x1="349.99" y1="75.74" x2="340.10" y2="58.85" stroke="#5e9dc9" stroke-width="0.55"/>
<line x1="351.28" y1="75.00" x2="341.66" y2="57.96" stroke="#5e9dc9" stroke-width="0.55"/>
<line x1="352.54" y1="74.30" x2="343.16" y2="57.12" stroke="#5e9dc9" stroke-width="0.55"/>
<line x1="347.26" y1="77.40" x2="336.83" y2="60.84" stroke="#fff" stroke-width="0.35"/>
<line x1="353.31" y1="73.88" x2="344.09" y2="56.62" stroke="#fff" stroke-width="0.35"/>
<path d="M344.09,56.62A117.42,117.42 0 0 1 362.34,48.78L368.51,67.35A97.85,97.85 0 0 0 353.31,73.88Z" fill="#1f77b4"/>
<line x1="353.31" y1="73.88" x2="344.09" y2="56.62" stroke="#fff" stroke-width="0.35"/>
<line x1="368.51" y1="67.35" x2="362.34" y2="48.78" stroke="#fff" stroke-width="0.35"/>
<path d="M365.27,47.85A117.42,117.42 0 0 1 375.79,45.18L379.72,64.35A97.85,97.85 0 0 0 370.95,66.58Z" fill="#91bcda"/>
<line x1="371.34" y1="66.46" x2="365.73" y2="47.71" stroke="#5e9dc9" stroke-width="0.55"/>
<line x1="373.10" y1="65.95" x2="367.84" y2="47.10" stroke="#5e9dc9" stroke-width="0.55"/>
<line x1="374.54" y1="65.56" x2="369.57" y2="46.63" stroke="#5e9dc9" stroke-width="0.55"/>
<line x1="376.30" y1="65.12" x2="371.68" y2="46.10" stroke="#5e9dc9" stroke-width="0.55"/>
<line x1="377.53" y1="64.83" x2="373.15" y2="45.75" stroke="#5e9dc9" stroke-width="0.55"/>
<line x1="379.09" y1="64.48" x2="375.03" y2="45.34" stroke="#5e9dc9" stroke-width="0.55"/>
<line x1="370.95" y1="66.58" x2="365.27" y2="47.85" stroke="#fff" stroke-width="0.35"/>
<line x1="379.72" y1="64.35" x2="375.79" y2="45.18" stroke="#fff" stroke-width="0.35"/>
<path d="M375.79,45.18A117.42,117.42 0 0 1 392.03,43.01L393.26,62.54A97.85,97.85 0 0 0 379.72,64.35Z" fill="#7db0d4"/>
<line x1="380.47" y1="64.20" x2="376.68" y2="45.00" stroke="#4a91c2" stroke-width="0.55"/>
<line x1="382.08" y1="63.89" x2="378.62" y2="44.63" stroke="#4a91c2" stroke-width="0.55"/>
<line x1="383.42" y1="63.66" x2="380.23" y2="44.36" stroke="#4a91c2" stroke-width="0.55"/>
<line x1="384.79" y1="63.45" x2="381.87" y2="44.10" stroke="#4a91c2" stroke-width="0.55"/>
<line x1="386.83" y1="63.16" x2="384.32" y2="43.75" stroke="#4a91c2" stroke-width="0.55"/>
<line x1="388.34" y1="62.98" x2="386.13" y2="43.53" stroke="#4a91c2" stroke-width="0.55"/>
<line x1="389.73" y1="62.83" x2="387.80" y2="43.35" stroke="#4a91c2" stroke-width="0.55"/>
<line x1="391.14" y1="62.70" x2="389.49" y2="43.20" stroke="#4a91c2" stroke-width="0.55"/>
<line x1="392.36" y1="62.60" x2="390.95" y2="43.08" stroke="#4a91c2" stroke-width="0.55"/>
<line x1="379.72" y1="64.35" x2="375.79" y2="45.18" stroke="#fff" stroke-width="0.35"/>
<line x1="393.26" y1="62.54" x2="392.03" y2="43.01" stroke="#fff" stroke-width="0.35"/>
<path d="M393.66,42.92A117.42,117.42 0 0 1 412.49,43.51L410.31,62.96A97.85,97.85 0 0 0 394.62,62.47Z" fill="#9cc3de"/>
<line x1="395.19" y1="62.44" x2="394.35" y2="42.89" stroke="#69a4cd" stroke-width="0.55"/>
<line x1="396.81" y1="62.38" x2="396.29" y2="42.82" stroke="#69a4cd" stroke-width="0.55"/>
<line x1="398.21" y1="62.36" x2="397.97" y2="42.79" stroke="#69a4cd" stroke-width="0.55"/>
<line x1="400.33" y1="62.35" x2="400.51" y2="42.79" stroke="#69a4cd" stroke-width="0.55"/>
<line x1="401.61" y1="62.37" x2="402.05" y2="42.81" stroke="#69a4cd" stroke-width="0.55"/>
<line x1="403.53" y1="62.44" x2="404.36" y2="42.88" stroke="#69a4cd" stroke-width="0.55"/>
<line x1="404.74" y1="62.50" x2="405.81" y2="42.95" stroke="#69a4cd" stroke-width="0.55"/>
<line x1="406.75" y1="62.63" x2="408.23" y2="43.11" stroke="#69a4cd" stroke-width="0.55"/>
<line x1="408.23" y1="62.75" x2="410.00" y2="43.26" stroke="#69a4cd" stroke-width="0.55"/>
<line x1="409.14" y1="62.84" x2="411.08" y2="43.36" stroke="#69a4cd" stroke-width="0.55"/>
<line x1="394.62" y1="62.47" x2="393.66" y2="42.92" stroke="#fff" stroke-width="0.35"/>
<line x1="410.31" y1="62.96" x2="412.49" y2="43.51" stroke="#fff" stroke-width="0.35"/>
<path d="M412.49,43.51A117.42,117.42 0 0 1 424.61,45.52L420.41,64.63A97.85,97.85 0 0 0 410.31,62.96Z" fill="#247ab6"/>
<line x1="412.11" y1="63.18" x2="414.65" y2="43.78" stroke="#aacbe2" stroke-width="0.55"/>
<line x1="418.93" y1="64.32" x2="422.84" y2="45.14" stroke="#aacbe2" stroke-width="0.55"/>
<line x1="410.31" y1="62.96" x2="412.49" y2="43.51" stroke="#fff" stroke-width="0.35"/>
<line x1="420.41" y1="64.63" x2="424.61" y2="45.52" stroke="#fff" stroke-width="0.35"/>
<path d="M429.20,46.62A117.42,117.42 0 0 1 439.37,49.79L432.71,68.19A97.85,97.85 0 0 0 424.23,65.55Z" fill="#98c0dc"/>
<line x1="424.92" y1="65.74" x2="430.03" y2="46.85" stroke="#64a1cb" stroke-width="0.55"/>
<line x1="426.71" y1="66.24" x2="432.18" y2="47.45" stroke="#64a1cb" stroke-width="0.55"/>
<line x1="427.72" y1="66.54" x2="433.38" y2="47.80" stroke="#64a1cb" stroke-width="0.55"/>
<line x1="428.90" y1="66.90" x2="434.80" y2="48.24" stroke="#64a1cb" stroke-width="0.55"/>
<line x1="430.70" y1="67.49" x2="436.96" y2="48.95" stroke="#64a1cb" stroke-width="0.55"/>
<line x1="432.20" y1="68.01" x2="438.76" y2="49.57" stroke="#64a1cb" stroke-width="0.55"/>
<line x1="424.23" y1="65.55" x2="429.20" y2="46.62" stroke="#fff" stroke-width="0.35"/>
<line x1="432.71" y1="68.19" x2="439.37" y2="49.79" stroke="#fff" stroke-width="0.35"/>
<path d="M439.37,49.79A117.42,117.42 0 0 1 464.55,62.51L453.69,78.79A97.85,97.85 0 0 0 432.71,68.19Z" fill="#237ab6"/>
<line x1="435.42" y1="69.22" x2="442.63" y2="51.03" stroke="#bcd6e8" stroke-width="0.5"/>
<line x1="438.26" y1="70.40" x2="446.03" y2="52.44" stroke="#bcd6e8" stroke-width="0.5"/>
<line x1="441.06" y1="71.66" x2="449.40" y2="53.96" stroke="#bcd6e8" stroke-width="0.5"/>
<line x1="443.67" y1="72.94" x2="452.52" y2="55.49" stroke="#bcd6e8" stroke-width="0.5"/>
<line x1="446.24" y1="74.29" x2="455.61" y2="57.11" stroke="#bcd6e8" stroke-width="0.5"/>
<line x1="448.77" y1="75.72" x2="458.64" y2="58.82" stroke="#bcd6e8" stroke-width="0.5"/>
<line x1="451.25" y1="77.22" x2="461.62" y2="60.62" stroke="#bcd6e8" stroke-width="0.5"/>
<path d="M464.55,62.51A117.42,117.42 0 0 1 482.88,77.63L468.97,91.39A97.85,97.85 0 0 0 453.69,78.79Z" fill="#6ba5ce"/>
<path d="M482.88,77.63A117.42,117.42 0 0 1 501.28,101.81L484.30,111.55A97.85,97.85 0 0 0 468.97,91.39Z" fill="#62a0ca"/>
<path d="M501.28,101.81A117.42,117.42 0 0 1 515.37,141.83L496.05,144.89A97.85,97.85 0 0 0 484.30,111.55Z" fill="#5b9cc8"/>
<line x1="453.69" y1="78.79" x2="464.55" y2="62.51" stroke="#fff" stroke-width="0.45"/>
<line x1="454.63" y1="79.42" x2="465.67" y2="63.27" stroke="#fff" stroke-width="0.45"/>
<line x1="455.59" y1="80.09" x2="466.82" y2="64.07" stroke="#fff" stroke-width="0.45"/>
<line x1="456.57" y1="80.79" x2="468.00" y2="64.90" stroke="#fff" stroke-width="0.45"/>
<line x1="457.57" y1="81.52" x2="469.21" y2="65.78" stroke="#fff" stroke-width="0.45"/>
<line x1="458.60" y1="82.29" x2="470.44" y2="66.71" stroke="#fff" stroke-width="0.45"/>
<line x1="459.66" y1="83.10" x2="471.71" y2="67.69" stroke="#fff" stroke-width="0.45"/>
<line x1="460.74" y1="83.96" x2="473.01" y2="68.72" stroke="#fff" stroke-width="0.45"/>
<line x1="461.85" y1="84.87" x2="474.34" y2="69.80" stroke="#fff" stroke-width="0.45"/>
<line x1="462.98" y1="85.82" x2="475.70" y2="70.95" stroke="#fff" stroke-width="0.45"/>
<line x1="464.14" y1="86.83" x2="477.09" y2="72.16" stroke="#fff" stroke-width="0.45"/>
<line x1="465.33" y1="87.89" x2="478.51" y2="73.43" stroke="#fff" stroke-width="0.45"/>
<line x1="466.54" y1="89.01" x2="479.96" y2="74.78" stroke="#fff" stroke-width="0.45"/>
<line x1="467.77" y1="90.20" x2="481.44" y2="76.20" stroke="#fff" stroke-width="0.45"/>
<line x1="469.02" y1="91.44" x2="482.95" y2="77.69" stroke="#fff" stroke-width="0.45"/>
<line x1="470.30" y1="92.76" x2="484.48" y2="79.27" stroke="#fff" stroke-width="0.45"/>
<line x1="471.59" y1="94.15" x2="486.03" y2="80.94" stroke="#fff" stroke-width="0.45"/>
<line x1="472.91" y1="95.62" x2="487.61" y2="82.70" stroke="#fff" stroke-width="0.45"/>
<line x1="474.24" y1="97.16" x2="489.20" y2="84.55" stroke="#fff" stroke-width="0.45"/>
<line x1="475.58" y1="98.79" x2="490.82" y2="86.51" stroke="#fff" stroke-width="0.45"/>
<line x1="476.93" y1="100.51" x2="492.44" y2="88.57" stroke="#fff" stroke-width="0.5"/>
<line x1="478.30" y1="102.32" x2="494.08" y2="90.74" stroke="#fff" stroke-width="0.5"/>
<line x1="479.66" y1="104.23" x2="495.71" y2="93.04" stroke="#fff" stroke-width="0.5"/>
<line x1="481.03" y1="106.24" x2="497.35" y2="95.45" stroke="#fff" stroke-width="0.5"/>
<line x1="482.39" y1="108.36" x2="498.99" y2="98.00" stroke="#fff" stroke-width="0.5"/>
<line x1="483.74" y1="110.60" x2="500.61" y2="100.68" stroke="#fff" stroke-width="0.5"/>
<line x1="485.08" y1="112.95" x2="502.22" y2="103.50" stroke="#fff" stroke-width="0.5"/>
<line x1="486.40" y1="115.42" x2="503.80" y2="106.46" stroke="#fff" stroke-width="0.5"/>
<line x1="487.69" y1="118.02" x2="505.35" y2="109.58" stroke="#fff" stroke-width="0.5"/>
<line x1="488.95" y1="120.75" x2="506.86" y2="112.86" stroke="#fff" stroke-width="0.5"/>
<line x1="490.16" y1="123.63" x2="508.31" y2="116.31" stroke="#fff" stroke-width="0.5"/>
<line x1="491.31" y1="126.64" x2="509.70" y2="119.93" stroke="#fff" stroke-width="0.5"/>
<line x1="492.41" y1="129.80" x2="511.01" y2="123.72" stroke="#fff" stroke-width="0.5"/>
<line x1="493.43" y1="133.11" x2="512.23" y2="127.69" stroke="#fff" stroke-width="0.5"/>
<line x1="494.36" y1="136.58" x2="513.35" y2="131.85" stroke="#fff" stroke-width="0.5"/>
<line x1="495.18" y1="140.20" x2="514.34" y2="136.20" stroke="#fff" stroke-width="0.5"/>
<line x1="495.90" y1="143.99" x2="515.20" y2="140.75" stroke="#fff" stroke-width="0.5"/>
<path d="M515.37,141.83A117.42,117.42 0 0 1 516.82,159.28L497.25,159.43A97.85,97.85 0 0 0 496.05,144.89Z" fill="#1f77b4"/>
<line x1="496.93" y1="152.35" x2="516.44" y2="150.78" stroke="#9ac2dd" stroke-width="0.5"/>
<line x1="496.05" y1="144.89" x2="515.37" y2="141.83" stroke="#9ac2dd" stroke-width="0.5"/>
<path d="M293.96,72.74A136.99,136.99 0 0 1 303.21,62.66L316.95,76.59A117.42,117.42 0 0 0 309.03,85.23Z" fill="#8bb8d8"/>
<line x1="309.44" y1="84.74" x2="294.44" y2="72.16" stroke="#5799c7" stroke-width="0.55"/>
<line x1="310.42" y1="83.58" x2="295.60" y2="70.81" stroke="#5799c7" stroke-width="0.55"/>
<line x1="311.66" y1="82.16" x2="297.04" y2="69.16" stroke="#5799c7" stroke-width="0.55"/>
<line x1="313.14" y1="80.53" x2="298.77" y2="67.25" stroke="#5799c7" stroke-width="0.55"/>
<line x1="314.17" y1="79.43" x2="299.97" y2="65.97" stroke="#5799c7" stroke-width="0.55"/>
<line x1="314.96" y1="78.61" x2="300.89" y2="65.01" stroke="#5799c7" stroke-width="0.55"/>
<line x1="316.21" y1="77.33" x2="302.34" y2="63.52" stroke="#5799c7" stroke-width="0.55"/>
<line x1="309.03" y1="85.23" x2="293.96" y2="72.74" stroke="#fff" stroke-width="0.35"/>
<line x1="316.95" y1="76.59" x2="303.21" y2="62.66" stroke="#fff" stroke-width="0.35"/>
<path d="M312.08,54.65A136.99,136.99 0 0 1 325.59,44.79L336.14,61.28A117.42,117.42 0 0 0 324.55,69.73Z" fill="#79add2"/>
<line x1="324.92" y1="69.42" x2="312.51" y2="54.29" stroke="#458ec1" stroke-width="0.55"/>
<line x1="326.14" y1="68.44" x2="313.93" y2="53.15" stroke="#458ec1" stroke-width="0.55"/>
<line x1="327.85" y1="67.09" x2="315.93" y2="51.58" stroke="#458ec1" stroke-width="0.55"/>
<line x1="328.73" y1="66.43" x2="316.95" y2="50.80" stroke="#458ec1" stroke-width="0.55"/>
<line x1="330.25" y1="65.30" x2="318.73" y2="49.48" stroke="#458ec1" stroke-width="0.55"/>
<line x1="331.48" y1="64.42" x2="320.16" y2="48.46" stroke="#458ec1" stroke-width="0.55"/>
<line x1="332.61" y1="63.62" x2="321.48" y2="47.53" stroke="#458ec1" stroke-width="0.55"/>
<line x1="334.29" y1="62.49" x2="323.44" y2="46.20" stroke="#458ec1" stroke-width="0.55"/>
<line x1="335.22" y1="61.87" x2="324.52" y2="45.48" stroke="#458ec1" stroke-width="0.55"/>
<line x1="324.55" y1="69.73" x2="312.08" y2="54.65" stroke="#fff" stroke-width="0.35"/>
<line x1="336.14" y1="61.28" x2="325.59" y2="44.79" stroke="#fff" stroke-width="0.35"/>
<path d="M335.93,38.80A136.99,136.99 0 0 1 357.07,29.91L363.12,48.53A117.42,117.42 0 0 0 345.00,56.14Z" fill="#8bb8d8"/>
<line x1="345.77" y1="55.74" x2="336.83" y2="38.33" stroke="#5799c7" stroke-width="0.55"/>
<line x1="346.76" y1="55.24" x2="337.99" y2="37.75" stroke="#5799c7" stroke-width="0.55"/>
<line x1="348.33" y1="54.47" x2="339.81" y2="36.85" stroke="#5799c7" stroke-width="0.55"/>
<line x1="349.55" y1="53.89" x2="341.24" y2="36.17" stroke="#5799c7" stroke-width="0.55"/>
<line x1="350.96" y1="53.24" x2="342.89" y2="35.41" stroke="#5799c7" stroke-width="0.55"/>
<line x1="352.83" y1="52.41" x2="345.07" y2="34.44" stroke="#5799c7" stroke-width="0.55"/>
<line x1="354.11" y1="51.87" x2="346.56" y2="33.81" stroke="#5799c7" stroke-width="0.55"/>
<line x1="355.16" y1="51.43" x2="347.79" y2="33.31" stroke="#5799c7" stroke-width="0.55"/>
<line x1="356.97" y1="50.71" x2="349.90" y2="32.46" stroke="#5799c7" stroke-width="0.55"/>
<line x1="357.91" y1="50.35" x2="351.00" y2="32.05" stroke="#5799c7" stroke-width="0.55"/>
<line x1="359.46" y1="49.78" x2="352.80" y2="31.38" stroke="#5799c7" stroke-width="0.55"/>
<line x1="361.22" y1="49.16" x2="354.85" y2="30.66" stroke="#5799c7" stroke-width="0.55"/>
<line x1="362.50" y1="48.73" x2="356.35" y2="30.15" stroke="#5799c7" stroke-width="0.55"/>
<line x1="345.00" y1="56.14" x2="335.93" y2="38.80" stroke="#fff" stroke-width="0.35"/>
<line x1="363.12" y1="48.53" x2="357.07" y2="29.91" stroke="#fff" stroke-width="0.35"/>
<path d="M417.52,24.41A136.99,136.99 0 0 1 429.05,26.46L424.81,45.56A117.42,117.42 0 0 0 414.93,43.81Z" fill="#7db0d4"/>
<line x1="415.43" y1="43.88" x2="418.10" y2="24.49" stroke="#4a91c2" stroke-width="0.55"/>
<line x1="417.82" y1="44.23" x2="420.89" y2="24.91" stroke="#4a91c2" stroke-width="0.55"/>
<line x1="418.83" y1="44.40" x2="422.07" y2="25.10" stroke="#4a91c2" stroke-width="0.55"/>
<line x1="420.52" y1="44.69" x2="424.03" y2="25.44" stroke="#4a91c2" stroke-width="0.55"/>
<line x1="422.58" y1="45.09" x2="426.45" y2="25.91" stroke="#4a91c2" stroke-width="0.55"/>
<line x1="423.86" y1="45.36" x2="427.93" y2="26.21" stroke="#4a91c2" stroke-width="0.55"/>
<line x1="414.93" y1="43.81" x2="417.52" y2="24.41" stroke="#fff" stroke-width="0.35"/>
<line x1="424.81" y1="45.56" x2="429.05" y2="26.46" stroke="#fff" stroke-width="0.35"/>
<path d="M446.25,31.47A136.99,136.99 0 0 1 454.46,34.76L446.60,52.68A117.42,117.42 0 0 0 439.56,49.86Z" fill="#72a9d0"/>
<line x1="440.13" y1="50.07" x2="446.91" y2="31.71" stroke="#3e8abe" stroke-width="0.55"/>
<line x1="441.39" y1="50.54" x2="448.39" y2="32.27" stroke="#3e8abe" stroke-width="0.55"/>
<line x1="442.81" y1="51.10" x2="450.05" y2="32.92" stroke="#3e8abe" stroke-width="0.55"/>
<line x1="444.56" y1="51.81" x2="452.09" y2="33.75" stroke="#3e8abe" stroke-width="0.55"/>
<line x1="445.72" y1="52.30" x2="453.44" y2="34.32" stroke="#3e8abe" stroke-width="0.55"/>
<line x1="439.56" y1="49.86" x2="446.25" y2="31.47" stroke="#fff" stroke-width="0.35"/>
<line x1="446.60" y1="52.68" x2="454.46" y2="34.76" stroke="#fff" stroke-width="0.35"/>
<path d="M454.90,34.96A136.99,136.99 0 0 1 464.13,39.47L454.89,56.72A117.42,117.42 0 0 0 446.97,52.85Z" fill="#8bb8d8"/>
<line x1="447.71" y1="53.18" x2="455.76" y2="35.34" stroke="#5799c7" stroke-width="0.55"/>
<line x1="448.89" y1="53.72" x2="457.14" y2="35.97" stroke="#5799c7" stroke-width="0.55"/>
<line x1="450.27" y1="54.37" x2="458.75" y2="36.74" stroke="#5799c7" stroke-width="0.55"/>
<line x1="451.93" y1="55.18" x2="460.68" y2="37.68" stroke="#5799c7" stroke-width="0.55"/>
<line x1="452.93" y1="55.69" x2="461.85" y2="38.27" stroke="#5799c7" stroke-width="0.55"/>
<line x1="454.29" y1="56.40" x2="463.43" y2="39.10" stroke="#5799c7" stroke-width="0.55"/>
<line x1="446.97" y1="52.85" x2="454.90" y2="34.96" stroke="#fff" stroke-width="0.35"/>
<line x1="454.89" y1="56.72" x2="464.13" y2="39.47" stroke="#fff" stroke-width="0.35"/>
<path d="M464.56,39.70A136.99,136.99 0 0 1 475.41,46.23L464.55,62.51A117.42,117.42 0 0 0 455.25,56.91Z" fill="#a5c9e1"/>
<line x1="456.18" y1="57.42" x2="465.64" y2="40.29" stroke="#72a9d0" stroke-width="0.55"/>
<line x1="457.07" y1="57.92" x2="466.68" y2="40.87" stroke="#72a9d0" stroke-width="0.55"/>
<line x1="458.40" y1="58.68" x2="468.23" y2="41.76" stroke="#72a9d0" stroke-width="0.55"/>
<line x1="460.23" y1="59.77" x2="470.37" y2="43.03" stroke="#72a9d0" stroke-width="0.55"/>
<line x1="461.50" y1="60.54" x2="471.85" y2="43.93" stroke="#72a9d0" stroke-width="0.55"/>
<line x1="462.44" y1="61.14" x2="472.94" y2="44.62" stroke="#72a9d0" stroke-width="0.55"/>
<line x1="463.70" y1="61.95" x2="474.42" y2="45.58" stroke="#72a9d0" stroke-width="0.55"/>
<line x1="455.25" y1="56.91" x2="464.56" y2="39.70" stroke="#fff" stroke-width="0.35"/>
<line x1="464.55" y1="62.51" x2="475.41" y2="46.23" stroke="#fff" stroke-width="0.35"/>
<path d="M282.62,88.59A136.99,136.99 0 0 1 283.34,87.42L299.92,97.82A117.42,117.42 0 0 0 299.30,98.82Z" fill="#62a0ca"/>
<path d="M285.66,83.86A136.99,136.99 0 0 1 286.42,82.72L302.56,93.79A117.42,117.42 0 0 0 301.90,94.76Z" fill="#62a0ca"/>
<path d="M306.29,59.72A136.99,136.99 0 0 1 307.06,59.01L320.25,73.46A117.42,117.42 0 0 0 319.59,74.07Z" fill="#74abd0"/>
<path d="M309.49,56.84A136.99,136.99 0 0 1 310.29,56.16L323.02,71.02A117.42,117.42 0 0 0 322.33,71.61Z" fill="#74abd0"/>
<path d="M327.66,43.50A136.99,136.99 0 0 1 328.80,42.80L338.89,59.57A117.42,117.42 0 0 0 337.91,60.17Z" fill="#67a3cc"/>
<path d="M362.79,28.19A136.99,136.99 0 0 1 364.18,27.82L369.21,46.73A117.42,117.42 0 0 0 368.02,47.05Z" fill="#7db0d4"/>
<path d="M404.30,23.30A136.99,136.99 0 0 1 406.93,23.42L405.85,42.96A117.42,117.42 0 0 0 403.60,42.86Z" fill="#5e9dc9"/>
<path d="M431.96,27.14A136.99,136.99 0 0 1 433.12,27.43L428.30,46.39A117.42,117.42 0 0 0 427.31,46.15Z" fill="#c0d9ea"/>
<path d="M324.15,181.78A78.28,78.28 0 0 1 321.67,169.47L341.10,167.15A58.71,58.71 0 0 0 342.96,176.38Z" fill="#3182ba"/>
<line x1="342.46" y1="174.50" x2="323.48" y2="179.27" stroke="#aacbe2" stroke-width="0.55"/>
<line x1="341.72" y1="171.13" x2="322.49" y2="174.77" stroke="#aacbe2" stroke-width="0.55"/>
<line x1="341.38" y1="169.18" x2="322.04" y2="172.17" stroke="#aacbe2" stroke-width="0.55"/>
<line x1="342.96" y1="176.38" x2="324.15" y2="181.78" stroke="#fff" stroke-width="0.35"/>
<line x1="341.10" y1="167.15" x2="321.67" y2="169.47" stroke="#fff" stroke-width="0.35"/>
<path d="M327.89,192.04A78.28,78.28 0 0 1 324.30,182.30L343.08,176.78A58.71,58.71 0 0 0 345.77,184.08Z" fill="#3987bd"/>
<line x1="345.03" y1="182.35" x2="326.90" y2="189.73" stroke="#aacbe2" stroke-width="0.55"/>
<line x1="344.13" y1="180.01" x2="325.71" y2="186.61" stroke="#aacbe2" stroke-width="0.55"/>
<line x1="343.42" y1="177.89" x2="324.76" y2="183.79" stroke="#aacbe2" stroke-width="0.55"/>
<line x1="345.77" y1="184.08" x2="327.89" y2="192.04" stroke="#fff" stroke-width="0.35"/>
<line x1="343.08" y1="176.78" x2="324.30" y2="182.30" stroke="#fff" stroke-width="0.35"/>
<path d="M304.88,185.53A97.85,97.85 0 0 1 302.24,171.79L321.67,169.47A78.28,78.28 0 0 0 323.79,180.46Z" fill="#3584bb"/>
<line x1="323.46" y1="179.21" x2="304.48" y2="183.96" stroke="#aacbe2" stroke-width="0.55"/>
<line x1="322.93" y1="176.92" x2="303.81" y2="181.10" stroke="#aacbe2" stroke-width="0.55"/>
<line x1="322.39" y1="174.26" x2="303.14" y2="177.78" stroke="#aacbe2" stroke-width="0.55"/>
<line x1="321.76" y1="170.22" x2="302.35" y2="172.72" stroke="#aacbe2" stroke-width="0.55"/>
<line x1="323.79" y1="180.46" x2="304.88" y2="185.53" stroke="#fff" stroke-width="0.35"/>
<line x1="321.67" y1="169.47" x2="302.24" y2="171.79" stroke="#fff" stroke-width="0.35"/>
<path d="M309.87,199.69A97.85,97.85 0 0 1 305.53,187.83L324.30,182.30A78.28,78.28 0 0 0 327.78,191.79Z" fill="#3f8abf"/>
<line x1="327.48" y1="191.11" x2="309.50" y2="198.83" stroke="#aacbe2" stroke-width="0.55"/>
<line x1="326.53" y1="188.80" x2="308.31" y2="195.95" stroke="#aacbe2" stroke-width="0.55"/>
<line x1="325.97" y1="187.33" x2="307.62" y2="194.12" stroke="#aacbe2" stroke-width="0.55"/>
<line x1="325.11" y1="184.88" x2="306.54" y2="191.05" stroke="#aacbe2" stroke-width="0.55"/>
<line x1="324.57" y1="183.18" x2="305.86" y2="188.92" stroke="#aacbe2" stroke-width="0.55"/>
<line x1="327.78" y1="191.79" x2="309.87" y2="199.69" stroke="#fff" stroke-width="0.35"/>
<line x1="324.30" y1="182.30" x2="305.53" y2="187.83" stroke="#fff" stroke-width="0.35"/>
<path d="M285.47,188.61A117.42,117.42 0 0 1 282.81,174.10L302.24,171.79A97.85,97.85 0 0 0 304.46,183.87Z" fill="#76acd1"/>
<line x1="304.31" y1="183.28" x2="285.29" y2="187.90" stroke="#438dc0" stroke-width="0.55"/>
<line x1="303.98" y1="181.87" x2="284.90" y2="186.21" stroke="#438dc0" stroke-width="0.55"/>
<line x1="303.57" y1="179.96" x2="284.40" y2="183.91" stroke="#438dc0" stroke-width="0.55"/>
<line x1="303.36" y1="178.94" x2="284.15" y2="182.69" stroke="#438dc0" stroke-width="0.55"/>
<line x1="303.06" y1="177.31" x2="283.79" y2="180.74" stroke="#438dc0" stroke-width="0.55"/>
<line x1="302.76" y1="175.55" x2="283.43" y2="178.62" stroke="#438dc0" stroke-width="0.55"/>
<line x1="302.50" y1="173.80" x2="283.12" y2="176.52" stroke="#438dc0" stroke-width="0.55"/>
<line x1="302.32" y1="172.46" x2="282.91" y2="174.91" stroke="#438dc0" stroke-width="0.55"/>
<line x1="304.46" y1="183.87" x2="285.47" y2="188.61" stroke="#fff" stroke-width="0.35"/>
<line x1="302.24" y1="171.79" x2="282.81" y2="174.10" stroke="#fff" stroke-width="0.35"/>
<path d="M291.64,206.83A117.42,117.42 0 0 1 286.76,193.35L305.53,187.83A97.85,97.85 0 0 0 309.60,199.06Z" fill="#91bcda"/>
<line x1="309.37" y1="198.53" x2="291.36" y2="206.19" stroke="#5e9dc9" stroke-width="0.55"/>
<line x1="308.61" y1="196.70" x2="290.46" y2="204.01" stroke="#5e9dc9" stroke-width="0.55"/>
<line x1="308.26" y1="195.81" x2="290.03" y2="202.93" stroke="#5e9dc9" stroke-width="0.55"/>
<line x1="307.78" y1="194.55" x2="289.45" y2="201.42" stroke="#5e9dc9" stroke-width="0.55"/>
<line x1="307.20" y1="192.97" x2="288.76" y2="199.52" stroke="#5e9dc9" stroke-width="0.55"/>
<line x1="306.67" y1="191.43" x2="288.12" y2="197.67" stroke="#5e9dc9" stroke-width="0.55"/>
<line x1="306.29" y1="190.28" x2="287.67" y2="196.30" stroke="#5e9dc9" stroke-width="0.55"/>
<line x1="305.82" y1="188.77" x2="287.10" y2="194.49" stroke="#5e9dc9" stroke-width="0.55"/>
<line x1="309.60" y1="199.06" x2="291.64" y2="206.83" stroke="#fff" stroke-width="0.35"/>
<line x1="305.53" y1="187.83" x2="286.76" y2="193.35" stroke="#fff" stroke-width="0.35"/>
<path d="M315.72,209.00A96.87,96.87 0 0 1 315.34,208.34L347.60,189.86A59.69,59.69 0 0 0 347.84,190.27Z" fill="#7db0d4"/>
<path d="M327.89,192.04A78.28,78.28 0 0 1 321.67,169.47" fill="none" stroke="#fff" stroke-width="0.6"/>
<path d="M310.01,200.00A97.85,97.85 0 0 1 302.24,171.79" fill="none" stroke="#fff" stroke-width="0.6"/>
<path d="M364.53,142.43A39.14,39.14 0 0 1 438.54,160.20" fill="none" stroke="#9ac2dd" stroke-width="0.6"/>
<path d="M347.09,133.55A58.71,58.71 0 0 1 458.11,160.20" fill="none" stroke="#9ac2dd" stroke-width="0.6"/>
<path d="M329.65,124.66A78.28,78.28 0 0 1 477.68,160.20" fill="none" stroke="#9ac2dd" stroke-width="0.6"/>
<path d="M312.22,115.78A97.85,97.85 0 0 1 497.25,160.20" fill="none" stroke="#9ac2dd" stroke-width="0.6"/>
<path d="M368.43,184.14A39.14,39.14 0 0 1 364.53,142.43" fill="none" stroke="#9ac2dd" stroke-width="0.6"/>
<path d="M352.95,196.10A58.71,58.71 0 0 1 347.09,133.55" fill="none" stroke="#fff" stroke-width="0.5"/>
<path d="M429.67,162.21A30.33,30.33 0 0 1 429.49,164.00L418.82,162.65A19.57,19.57 0 0 0 418.93,161.50Z" fill="#f2c2e4"/>
<path d="M438.45,162.79A39.14,39.14 0 0 1 438.23,165.11L429.49,164.00A30.33,30.33 0 0 0 429.67,162.21Z" fill="#e4e5a7"/>
<path d="M438.23,165.11A39.14,39.14 0 0 1 437.99,166.73L418.70,163.46A19.57,19.57 0 0 0 418.82,162.65Z" fill="#cfbbe1"/>
<path d="M437.99,166.73A39.14,39.14 0 0 1 437.64,168.54L418.52,164.37A19.57,19.57 0 0 0 418.70,163.46Z" fill="#cbb3ae"/>
<path d="M437.64,168.54A39.14,39.14 0 0 1 436.27,173.33L417.84,166.77A19.57,19.57 0 0 0 418.52,164.37Z" fill="#98675d"/>
<line x1="418.40" y1="164.90" x2="437.40" y2="169.59" stroke="#cbb3ae" stroke-width="0.45"/>
<line x1="418.02" y1="166.22" x2="436.64" y2="172.24" stroke="#cbb3ae" stroke-width="0.45"/>
<line x1="418.52" y1="164.37" x2="437.64" y2="168.54" stroke="#fff" stroke-width="0.35"/>
<line x1="417.84" y1="166.77" x2="436.27" y2="173.33" stroke="#fff" stroke-width="0.35"/>
<path d="M456.76,172.71A58.71,58.71 0 0 1 454.71,179.90L436.27,173.33A39.14,39.14 0 0 0 437.64,168.54Z" fill="#9a6a61"/>
<line x1="437.53" y1="169.05" x2="456.59" y2="173.48" stroke="#cbb3ae" stroke-width="0.45"/>
<line x1="437.06" y1="170.85" x2="455.90" y2="176.17" stroke="#cbb3ae" stroke-width="0.45"/>
<line x1="436.44" y1="172.86" x2="454.96" y2="179.18" stroke="#cbb3ae" stroke-width="0.45"/>
<line x1="437.64" y1="168.54" x2="456.76" y2="172.71" stroke="#fff" stroke-width="0.35"/>
<line x1="436.27" y1="173.33" x2="454.71" y2="179.90" stroke="#fff" stroke-width="0.35"/>
<path d="M475.88,176.88A78.28,78.28 0 0 1 473.14,186.47L454.71,179.90A58.71,58.71 0 0 0 456.76,172.71Z" fill="#9c6e64"/>
<line x1="456.45" y1="174.06" x2="475.47" y2="178.68" stroke="#cbb3ae" stroke-width="0.45"/>
<line x1="456.06" y1="175.58" x2="474.95" y2="180.70" stroke="#cbb3ae" stroke-width="0.45"/>
<line x1="455.53" y1="177.41" x2="474.24" y2="183.14" stroke="#cbb3ae" stroke-width="0.45"/>
<line x1="454.99" y1="179.09" x2="473.52" y2="185.39" stroke="#cbb3ae" stroke-width="0.45"/>
<line x1="456.76" y1="172.71" x2="475.88" y2="176.88" stroke="#fff" stroke-width="0.35"/>
<line x1="454.71" y1="179.90" x2="473.14" y2="186.47" stroke="#fff" stroke-width="0.35"/>
<path d="M495.00,181.05A97.85,97.85 0 0 1 493.81,185.93L474.93,180.78A78.28,78.28 0 0 0 475.88,176.88Z" fill="#ae8981"/>
<line x1="475.79" y1="177.30" x2="494.89" y2="181.57" stroke="#e8dddb" stroke-width="0.45"/>
<line x1="475.50" y1="178.53" x2="494.53" y2="183.12" stroke="#e8dddb" stroke-width="0.45"/>
<line x1="475.18" y1="179.82" x2="494.13" y2="184.73" stroke="#e8dddb" stroke-width="0.45"/>
<line x1="475.88" y1="176.88" x2="495.00" y2="181.05" stroke="#fff" stroke-width="0.35"/>
<line x1="474.93" y1="180.78" x2="493.81" y2="185.93" stroke="#fff" stroke-width="0.35"/>
<path d="M493.81,185.93A97.85,97.85 0 0 1 491.58,193.03L473.14,186.47A78.28,78.28 0 0 0 474.93,180.78Z" fill="#9e7168"/>
<line x1="474.64" y1="181.79" x2="493.45" y2="187.19" stroke="#cbb3ae" stroke-width="0.45"/>
<line x1="474.26" y1="183.07" x2="492.98" y2="188.79" stroke="#cbb3ae" stroke-width="0.45"/>
<line x1="473.75" y1="184.68" x2="492.34" y2="190.80" stroke="#cbb3ae" stroke-width="0.45"/>
<line x1="473.50" y1="185.43" x2="492.03" y2="191.73" stroke="#cbb3ae" stroke-width="0.45"/>
<line x1="474.93" y1="180.78" x2="493.81" y2="185.93" stroke="#fff" stroke-width="0.35"/>
<line x1="473.14" y1="186.47" x2="491.58" y2="193.03" stroke="#fff" stroke-width="0.35"/>
<path d="M513.98,185.87A117.42,117.42 0 0 1 510.16,199.18L491.70,192.68A97.85,97.85 0 0 0 494.88,181.59Z" fill="#cbb3ae"/>
<line x1="494.51" y1="183.19" x2="513.53" y2="187.79" stroke="#f4eeed" stroke-width="0.45"/>
<line x1="493.85" y1="185.77" x2="512.74" y2="190.88" stroke="#f4eeed" stroke-width="0.45"/>
<line x1="492.95" y1="188.89" x2="511.66" y2="194.62" stroke="#f4eeed" stroke-width="0.45"/>
<line x1="492.25" y1="191.07" x2="510.82" y2="197.24" stroke="#f4eeed" stroke-width="0.45"/>
<line x1="494.88" y1="181.59" x2="513.98" y2="185.87" stroke="#fff" stroke-width="0.35"/>
<line x1="491.70" y1="192.68" x2="510.16" y2="199.18" stroke="#fff" stroke-width="0.35"/>
<path d="M436.17,173.61A39.14,39.14 0 0 1 433.20,179.94L416.30,170.07A19.57,19.57 0 0 0 417.78,166.91Z" fill="#a782c9"/>
<line x1="417.29" y1="168.12" x2="435.19" y2="176.05" stroke="#cfbbe1" stroke-width="0.45"/>
<line x1="416.89" y1="168.98" x2="434.38" y2="177.75" stroke="#cfbbe1" stroke-width="0.45"/>
<line x1="417.78" y1="166.91" x2="436.17" y2="173.61" stroke="#fff" stroke-width="0.35"/>
<line x1="416.30" y1="170.07" x2="433.20" y2="179.94" stroke="#fff" stroke-width="0.35"/>
<path d="M454.55,180.32A58.71,58.71 0 0 1 450.09,189.81L433.20,179.94A39.14,39.14 0 0 0 436.17,173.61Z" fill="#a179c5"/>
<line x1="435.85" y1="174.47" x2="454.07" y2="181.61" stroke="#cfbbe1" stroke-width="0.45"/>
<line x1="435.10" y1="176.24" x2="452.95" y2="184.26" stroke="#cfbbe1" stroke-width="0.45"/>
<line x1="434.29" y1="177.95" x2="451.73" y2="186.82" stroke="#cfbbe1" stroke-width="0.45"/>
<line x1="433.53" y1="179.36" x2="450.59" y2="188.95" stroke="#cfbbe1" stroke-width="0.45"/>
<line x1="436.17" y1="173.61" x2="454.55" y2="180.32" stroke="#fff" stroke-width="0.35"/>
<line x1="433.20" y1="179.94" x2="450.09" y2="189.81" stroke="#fff" stroke-width="0.35"/>
<path d="M472.94,187.03A78.28,78.28 0 0 1 471.17,191.45L453.23,183.64A58.71,58.71 0 0 0 454.55,180.32Z" fill="#c4abdb"/>
<line x1="454.30" y1="180.99" x2="472.61" y2="187.92" stroke="#eae1f2" stroke-width="0.45"/>
<line x1="453.85" y1="182.15" x2="472.00" y2="189.47" stroke="#eae1f2" stroke-width="0.45"/>
<line x1="453.37" y1="183.32" x2="471.35" y2="191.03" stroke="#eae1f2" stroke-width="0.45"/>
<line x1="454.55" y1="180.32" x2="472.94" y2="187.03" stroke="#fff" stroke-width="0.35"/>
<line x1="453.23" y1="183.64" x2="471.17" y2="191.45" stroke="#fff" stroke-width="0.35"/>
<path d="M471.17,191.45A78.28,78.28 0 0 1 466.99,199.69L450.09,189.81A58.71,58.71 0 0 0 453.23,183.64Z" fill="#a37cc6"/>
<line x1="452.93" y1="184.32" x2="470.77" y2="192.35" stroke="#cfbbe1" stroke-width="0.45"/>
<line x1="452.07" y1="186.14" x2="469.62" y2="194.79" stroke="#cfbbe1" stroke-width="0.45"/>
<line x1="451.19" y1="187.85" x2="468.46" y2="197.07" stroke="#cfbbe1" stroke-width="0.45"/>
<line x1="450.37" y1="189.34" x2="467.35" y2="199.06" stroke="#cfbbe1" stroke-width="0.45"/>
<line x1="453.23" y1="183.64" x2="471.17" y2="191.45" stroke="#fff" stroke-width="0.35"/>
<line x1="450.09" y1="189.81" x2="466.99" y2="199.69" stroke="#fff" stroke-width="0.35"/>
<path d="M489.91,197.38A97.85,97.85 0 0 1 484.26,208.91L467.29,199.17A78.28,78.28 0 0 0 471.81,189.95Z" fill="#bfa4d7"/>
<line x1="471.51" y1="190.67" x2="489.53" y2="198.29" stroke="#eae1f2" stroke-width="0.45"/>
<line x1="470.69" y1="192.53" x2="488.51" y2="200.62" stroke="#eae1f2" stroke-width="0.45"/>
<line x1="469.94" y1="194.14" x2="487.57" y2="202.63" stroke="#eae1f2" stroke-width="0.45"/>
<line x1="469.29" y1="195.46" x2="486.76" y2="204.27" stroke="#eae1f2" stroke-width="0.45"/>
<line x1="468.48" y1="197.02" x2="485.75" y2="206.22" stroke="#eae1f2" stroke-width="0.45"/>
<line x1="467.76" y1="198.34" x2="484.85" y2="207.87" stroke="#eae1f2" stroke-width="0.45"/>
<line x1="471.81" y1="189.95" x2="489.91" y2="197.38" stroke="#fff" stroke-width="0.35"/>
<line x1="467.29" y1="199.17" x2="484.26" y2="208.91" stroke="#fff" stroke-width="0.35"/>
<path d="M433.04,180.20A39.14,39.14 0 0 1 428.55,186.31L413.98,173.26A19.57,19.57 0 0 0 416.22,170.20Z" fill="#d83031"/>
<line x1="415.08" y1="171.91" x2="430.76" y2="183.62" stroke="#ed9e9e" stroke-width="0.45"/>
<line x1="416.22" y1="170.20" x2="433.04" y2="180.20" stroke="#fff" stroke-width="0.35"/>
<line x1="413.98" y1="173.26" x2="428.55" y2="186.31" stroke="#fff" stroke-width="0.35"/>
<path d="M449.87,190.20A58.71,58.71 0 0 1 443.13,199.37L428.55,186.31A39.14,39.14 0 0 0 433.04,180.20Z" fill="#d83233"/>
<line x1="431.92" y1="181.98" x2="448.18" y2="192.87" stroke="#ed9e9e" stroke-width="0.45"/>
<line x1="430.28" y1="184.25" x2="445.72" y2="196.27" stroke="#ed9e9e" stroke-width="0.45"/>
<line x1="433.04" y1="180.20" x2="449.87" y2="190.20" stroke="#fff" stroke-width="0.35"/>
<line x1="428.55" y1="186.31" x2="443.13" y2="199.37" stroke="#fff" stroke-width="0.35"/>
<path d="M466.69,200.20A78.28,78.28 0 0 1 457.71,212.43L443.13,199.37A58.71,58.71 0 0 0 449.87,190.20Z" fill="#d83233"/>
<line x1="448.13" y1="192.94" x2="464.38" y2="203.86" stroke="#ed9e9e" stroke-width="0.45"/>
<line x1="444.08" y1="198.29" x2="458.97" y2="210.98" stroke="#ed9e9e" stroke-width="0.45"/>
<line x1="449.87" y1="190.20" x2="466.69" y2="200.20" stroke="#fff" stroke-width="0.35"/>
<line x1="443.13" y1="199.37" x2="457.71" y2="212.43" stroke="#fff" stroke-width="0.35"/>
<path d="M483.42,210.36A97.85,97.85 0 0 1 472.04,225.76L457.51,212.65A78.28,78.28 0 0 0 466.61,200.33Z" fill="#e57575"/>
<line x1="465.69" y1="201.83" x2="482.26" y2="212.24" stroke="#f5c9c9" stroke-width="0.45"/>
<line x1="464.40" y1="203.82" x2="480.65" y2="214.72" stroke="#f5c9c9" stroke-width="0.45"/>
<line x1="463.20" y1="205.56" x2="479.15" y2="216.90" stroke="#f5c9c9" stroke-width="0.45"/>
<line x1="461.41" y1="207.97" x2="476.91" y2="219.92" stroke="#f5c9c9" stroke-width="0.45"/>
<line x1="459.94" y1="209.82" x2="475.08" y2="222.23" stroke="#f5c9c9" stroke-width="0.45"/>
<line x1="458.41" y1="211.64" x2="473.16" y2="224.50" stroke="#f5c9c9" stroke-width="0.45"/>
<line x1="466.61" y1="200.33" x2="483.42" y2="210.36" stroke="#fff" stroke-width="0.35"/>
<line x1="457.51" y1="212.65" x2="472.04" y2="225.76" stroke="#fff" stroke-width="0.35"/>
<path d="M428.35,186.54A39.14,39.14 0 0 1 422.55,191.76L410.97,175.98A19.57,19.57 0 0 0 413.88,173.37Z" fill="#37a537"/>
<line x1="412.96" y1="174.31" x2="426.53" y2="188.41" stroke="#a0d4a0" stroke-width="0.45"/>
<line x1="412.06" y1="175.12" x2="424.72" y2="190.04" stroke="#a0d4a0" stroke-width="0.45"/>
<line x1="413.88" y1="173.37" x2="428.35" y2="186.54" stroke="#fff" stroke-width="0.35"/>
<line x1="410.97" y1="175.98" x2="422.55" y2="191.76" stroke="#fff" stroke-width="0.35"/>
<path d="M442.83,199.70A58.71,58.71 0 0 1 434.21,207.47L422.61,191.72A39.14,39.14 0 0 0 428.35,186.54Z" fill="#41aa41"/>
<line x1="427.24" y1="187.71" x2="441.17" y2="201.46" stroke="#a0d4a0" stroke-width="0.45"/>
<line x1="426.06" y1="188.86" x2="439.39" y2="203.19" stroke="#a0d4a0" stroke-width="0.45"/>
<line x1="423.53" y1="191.01" x2="435.60" y2="206.42" stroke="#a0d4a0" stroke-width="0.45"/>
<line x1="428.35" y1="186.54" x2="442.83" y2="199.70" stroke="#fff" stroke-width="0.35"/>
<line x1="422.61" y1="191.72" x2="434.21" y2="207.47" stroke="#fff" stroke-width="0.35"/>
<path d="M456.09,214.18A78.28,78.28 0 0 1 449.57,220.29L437.03,205.27A58.71,58.71 0 0 0 441.92,200.69Z" fill="#89ca89"/>
<line x1="441.46" y1="201.16" x2="455.48" y2="214.81" stroke="#d5ecd5" stroke-width="0.45"/>
<line x1="440.64" y1="201.99" x2="454.38" y2="215.92" stroke="#d5ecd5" stroke-width="0.45"/>
<line x1="439.44" y1="203.14" x2="452.79" y2="217.45" stroke="#d5ecd5" stroke-width="0.45"/>
<line x1="438.55" y1="203.95" x2="451.60" y2="218.53" stroke="#d5ecd5" stroke-width="0.45"/>
<line x1="437.48" y1="204.88" x2="450.18" y2="219.78" stroke="#d5ecd5" stroke-width="0.45"/>
<line x1="441.92" y1="200.69" x2="456.09" y2="214.18" stroke="#fff" stroke-width="0.35"/>
<line x1="437.03" y1="205.27" x2="449.57" y2="220.29" stroke="#fff" stroke-width="0.35"/>
<path d="M449.57,220.29A78.28,78.28 0 0 1 445.82,223.23L434.21,207.47A58.71,58.71 0 0 0 437.03,205.27Z" fill="#39a639"/>
<line x1="436.04" y1="206.07" x2="448.26" y2="221.36" stroke="#a0d4a0" stroke-width="0.45"/>
<line x1="435.10" y1="206.81" x2="447.01" y2="222.34" stroke="#a0d4a0" stroke-width="0.45"/>
<line x1="437.03" y1="205.27" x2="449.57" y2="220.29" stroke="#fff" stroke-width="0.35"/>
<line x1="434.21" y1="207.47" x2="445.82" y2="223.23" stroke="#fff" stroke-width="0.35"/>
<path d="M460.09,236.96A97.85,97.85 0 0 1 457.72,238.77L446.06,223.05A78.28,78.28 0 0 0 447.95,221.60Z" fill="#7cc47c"/>
<path d="M458.25,238.38A97.85,97.85 0 0 1 457.72,238.77L446.06,223.05A78.28,78.28 0 0 0 446.48,222.74Z" fill="#4cae4c"/>
<path d="M460.09,236.96A97.85,97.85 0 0 1 459.72,237.24L447.66,221.83A78.28,78.28 0 0 0 447.95,221.60Z" fill="#56b356"/>
<path d="M467.38,230.58A97.85,97.85 0 0 1 466.57,231.35L453.13,217.12A78.28,78.28 0 0 0 453.78,216.51Z" fill="#afdbaf"/>
<path d="M437.64,168.54A39.14,39.14 0 0 1 436.27,173.33" fill="none" stroke="#fff" stroke-width="0.5"/>
<path d="M456.76,172.71A58.71,58.71 0 0 1 454.71,179.90" fill="none" stroke="#fff" stroke-width="0.5"/>
<path d="M475.88,176.88A78.28,78.28 0 0 1 473.14,186.47" fill="none" stroke="#fff" stroke-width="0.5"/>
<path d="M495.00,181.05A97.85,97.85 0 0 1 491.58,193.03" fill="none" stroke="#fff" stroke-width="0.5"/>
<path d="M436.17,173.61A39.14,39.14 0 0 1 433.20,179.94" fill="none" stroke="#fff" stroke-width="0.5"/>
<path d="M454.55,180.32A58.71,58.71 0 0 1 450.09,189.81" fill="none" stroke="#fff" stroke-width="0.5"/>
<path d="M472.94,187.03A78.28,78.28 0 0 1 466.99,199.69" fill="none" stroke="#fff" stroke-width="0.5"/>
<path d="M433.04,180.20A39.14,39.14 0 0 1 428.55,186.31" fill="none" stroke="#fff" stroke-width="0.5"/>
<path d="M449.87,190.20A58.71,58.71 0 0 1 443.13,199.37" fill="none" stroke="#fff" stroke-width="0.5"/>
<path d="M466.69,200.20A78.28,78.28 0 0 1 457.71,212.43" fill="none" stroke="#fff" stroke-width="0.5"/>
<path d="M428.35,186.54A39.14,39.14 0 0 1 422.61,191.72" fill="none" stroke="#fff" stroke-width="0.5"/>
<path d="M442.83,199.70A58.71,58.71 0 0 1 434.21,207.47" fill="none" stroke="#fff" stroke-width="0.5"/>
<path d="M457.31,212.87A78.28,78.28 0 0 1 445.82,223.23" fill="none" stroke="#fff" stroke-width="0.5"/>
<line x1="417.81" y1="166.84" x2="473.04" y2="186.75" stroke="#fff" stroke-width="0.5"/>
<line x1="416.26" y1="170.14" x2="466.84" y2="199.94" stroke="#fff" stroke-width="0.5"/>
<line x1="413.93" y1="173.31" x2="457.51" y2="212.65" stroke="#fff" stroke-width="0.5"/>
<path d="M422.37,191.89A39.14,39.14 0 0 1 368.43,184.14L383.92,172.17A19.57,19.57 0 0 0 410.88,176.05Z" fill="#ff7f0e"/>
<path d="M429.95,210.34A58.71,58.71 0 0 1 352.95,196.10L368.43,184.14A39.14,39.14 0 0 0 419.77,193.62Z" fill="#ff7f0e"/>
<path d="M444.71,246.93A97.85,97.85 0 0 1 321.98,220.04L352.95,196.10A58.71,58.71 0 0 0 426.59,212.24Z" fill="#ff7f0e"/>
<path d="M432.21,208.89A58.71,58.71 0 0 1 431.74,209.20L420.96,192.87A39.14,39.14 0 0 0 421.27,192.66Z" fill="#ffa556"/>
<line x1="428.07" y1="211.44" x2="456.73" y2="262.67" stroke="#e06c05" stroke-width="0.7"/>
<line x1="427.25" y1="211.89" x2="455.09" y2="263.57" stroke="#e06c05" stroke-width="0.7"/>
<path d="M422.37,191.89A39.14,39.14 0 0 1 368.43,184.14" fill="none" stroke="#ffb97a" stroke-width="0.6"/>
<path d="M426.59,212.24A58.71,58.71 0 0 1 352.95,196.10" fill="none" stroke="#ffb97a" stroke-width="0.6"/>
<path d="M435.65,229.58A78.28,78.28 0 0 1 337.46,208.07" fill="none" stroke="#ffb97a" stroke-width="0.6"/>
<line x1="412.10" y1="237.44" x2="415.28" y2="256.75" stroke="#ffb97a" stroke-width="0.5"/>
<line x1="414.80" y1="236.95" x2="418.65" y2="256.14" stroke="#ffb97a" stroke-width="0.5"/>
<line x1="418.33" y1="236.16" x2="423.06" y2="255.15" stroke="#ffb97a" stroke-width="0.5"/>
<line x1="423.24" y1="234.76" x2="429.20" y2="253.40" stroke="#ffb97a" stroke-width="0.5"/>
<line x1="407.63" y1="218.33" x2="410.38" y2="237.71" stroke="#ffb97a" stroke-width="0.5"/>
<path d="M453.77,264.27A117.42,117.42 0 0 1 306.49,232.01L321.98,220.04A97.85,97.85 0 0 0 444.71,246.93Z" fill="#ffa24f"/>
<path d="M419.56,275.88A117.42,117.42 0 0 1 408.43,277.27L406.93,257.76A97.85,97.85 0 0 0 416.20,256.60Z" fill="#ff993f"/>
<line x1="415.61" y1="256.70" x2="418.85" y2="276.00" stroke="#fff" stroke-width="0.5"/>
<line x1="412.97" y1="257.10" x2="415.68" y2="276.49" stroke="#fff" stroke-width="0.5"/>
<line x1="410.21" y1="257.45" x2="412.37" y2="276.90" stroke="#fff" stroke-width="0.5"/>
<line x1="408.44" y1="257.63" x2="410.25" y2="277.12" stroke="#fff" stroke-width="0.5"/>
<line x1="416.20" y1="256.60" x2="419.56" y2="275.88" stroke="#fff" stroke-width="0.35"/>
<line x1="406.93" y1="257.76" x2="408.43" y2="277.27" stroke="#fff" stroke-width="0.35"/>
<path d="M434.09,272.38A117.42,117.42 0 0 1 419.56,275.88L416.20,256.60A97.85,97.85 0 0 0 428.31,253.68Z" fill="#ff9d47"/>
<line x1="427.31" y1="253.98" x2="432.89" y2="272.74" stroke="#fff" stroke-width="0.5"/>
<line x1="423.20" y1="255.11" x2="427.96" y2="274.09" stroke="#fff" stroke-width="0.5"/>
<line x1="420.54" y1="255.74" x2="424.77" y2="274.85" stroke="#fff" stroke-width="0.5"/>
<line x1="417.82" y1="256.30" x2="421.51" y2="275.52" stroke="#fff" stroke-width="0.5"/>
<line x1="428.31" y1="253.68" x2="434.09" y2="272.38" stroke="#fff" stroke-width="0.35"/>
<line x1="416.20" y1="256.60" x2="419.56" y2="275.88" stroke="#fff" stroke-width="0.35"/>
<path d="M436.58,271.58A117.42,117.42 0 0 1 434.09,272.38L428.31,253.68A97.85,97.85 0 0 0 430.39,253.01Z" fill="#ffaa5f"/>
<line x1="428.94" y1="253.48" x2="434.85" y2="272.14" stroke="#fff" stroke-width="0.5"/>
<line x1="430.39" y1="253.01" x2="436.58" y2="271.58" stroke="#fff" stroke-width="0.35"/>
<line x1="428.31" y1="253.68" x2="434.09" y2="272.38" stroke="#fff" stroke-width="0.35"/>
<path d="M440.46,270.21A117.42,117.42 0 0 1 436.58,271.58L430.39,253.01A97.85,97.85 0 0 0 433.62,251.87Z" fill="#ffe3ca"/>
<line x1="432.95" y1="252.12" x2="439.66" y2="270.50" stroke="#ffa556" stroke-width="0.4"/>
<line x1="431.06" y1="252.79" x2="437.40" y2="271.30" stroke="#ffa556" stroke-width="0.4"/>
<line x1="433.62" y1="251.87" x2="440.46" y2="270.21" stroke="#fff" stroke-width="0.35"/>
<line x1="430.39" y1="253.01" x2="436.58" y2="271.58" stroke="#fff" stroke-width="0.35"/>
<path d="M448.06,267.06A117.42,117.42 0 0 1 440.46,270.21L433.62,251.87A97.85,97.85 0 0 0 439.95,249.25Z" fill="#ffb16c"/>
<line x1="439.22" y1="249.58" x2="447.19" y2="267.46" stroke="#fff" stroke-width="0.5"/>
<line x1="436.88" y1="250.59" x2="444.38" y2="268.66" stroke="#fff" stroke-width="0.5"/>
<line x1="434.36" y1="251.59" x2="441.35" y2="269.87" stroke="#fff" stroke-width="0.5"/>
<line x1="439.95" y1="249.25" x2="448.06" y2="267.06" stroke="#fff" stroke-width="0.35"/>
<line x1="433.62" y1="251.87" x2="440.46" y2="270.21" stroke="#fff" stroke-width="0.35"/>
<path d="M453.77,264.27A117.42,117.42 0 0 1 448.06,267.06L439.95,249.25A97.85,97.85 0 0 0 444.71,246.93Z" fill="#ff9b42"/>
<line x1="443.04" y1="247.78" x2="451.77" y2="265.29" stroke="#fff" stroke-width="0.5"/>
<line x1="440.70" y1="248.91" x2="448.96" y2="266.65" stroke="#fff" stroke-width="0.5"/>
<line x1="444.71" y1="246.93" x2="453.77" y2="264.27" stroke="#fff" stroke-width="0.35"/>
<line x1="439.95" y1="249.25" x2="448.06" y2="267.06" stroke="#fff" stroke-width="0.35"/>
<line x1="426.07" y1="254.35" x2="431.40" y2="273.17" stroke="#be8040" stroke-width="0.35"/>
<line x1="422.00" y1="255.40" x2="426.52" y2="274.45" stroke="#be8040" stroke-width="0.35"/>
<line x1="419.26" y1="256.01" x2="423.23" y2="275.18" stroke="#be8040" stroke-width="0.35"/>
<line x1="437.81" y1="250.20" x2="445.49" y2="268.19" stroke="#be8040" stroke-width="0.35"/>
<line x1="435.65" y1="251.09" x2="442.90" y2="269.26" stroke="#be8040" stroke-width="0.35"/>
<line x1="442.07" y1="248.26" x2="450.60" y2="265.87" stroke="#be8040" stroke-width="0.35"/>
<line x1="345.37" y1="241.78" x2="334.56" y2="258.09" stroke="#fff" stroke-width="0.55"/>
<line x1="369.10" y1="253.24" x2="363.04" y2="271.85" stroke="#fff" stroke-width="0.55"/>
<line x1="389.47" y1="257.54" x2="387.48" y2="277.01" stroke="#fff" stroke-width="0.55"/>
<line x1="398.32" y1="258.04" x2="398.10" y2="277.61" stroke="#fff" stroke-width="0.55"/>
<line x1="407.24" y1="257.74" x2="408.81" y2="277.24" stroke="#fff" stroke-width="0.55"/>
<line x1="411.89" y1="257.25" x2="414.38" y2="276.66" stroke="#fff" stroke-width="0.55"/>
<line x1="416.35" y1="256.57" x2="419.74" y2="275.84" stroke="#fff" stroke-width="0.55"/>
<path d="M444.71,246.93A97.85,97.85 0 0 1 321.98,220.04" fill="none" stroke="#fff" stroke-width="0.5"/>
<text x="0" y="0" transform="translate(390.29,135.31) rotate(339.90)" text-anchor="middle" dy="0.35em" font-family="Liberation Sans, sans-serif" font-size="4.55" fill="#fff" fill-opacity="1.0" stroke="#fff" stroke-width="0.07" stroke-opacity="0.70">Enzyme</text>
<text x="0" y="0" transform="translate(410.39,112.96) rotate(13.10)" text-anchor="middle" dy="0.35em" font-family="Liberation Sans, sans-serif" font-size="4.55" fill="#fff" fill-opacity="1.0" stroke="#fff" stroke-width="0.07" stroke-opacity="0.70">Kinase</text>
<text x="0" y="0" transform="translate(414.68,97.02) rotate(13.60)" text-anchor="middle" dy="0.35em" font-family="Liberation Sans, sans-serif" font-size="4.55" fill="#fff" fill-opacity="1.0" stroke="#fff" stroke-width="0.07" stroke-opacity="0.70">Protein Kinase</text>
<text x="0" y="0" transform="translate(473.54,120.72) rotate(61.97)" text-anchor="middle" dy="0.35em" font-family="Liberation Sans, sans-serif" font-size="4.55" fill="#fff" fill-opacity="1.0" stroke="#fff" stroke-width="0.07" stroke-opacity="0.70">TK protein kinase group</text>
<text x="0" y="0" transform="translate(436.17,73.15) rotate(22.90)" text-anchor="middle" dy="0.35em" font-family="Liberation Sans, sans-serif" font-size="4.4" fill="#fff" fill-opacity="0.3" stroke="#fff" stroke-width="0.07" stroke-opacity="0.21">Tkl protein kinase group</text>
<text x="0" y="0" transform="translate(406.40,65.96) rotate(4.25)" text-anchor="middle" dy="0.35em" font-family="Liberation Sans, sans-serif" font-size="4.0" fill="#fff" fill-opacity="0.3" stroke="#fff" stroke-width="0.07" stroke-opacity="0.21">CMGC protein kinase group</text>
<text x="0" y="0" transform="translate(381.04,67.50) rotate(348.80)" text-anchor="middle" dy="0.35em" font-family="Liberation Sans, sans-serif" font-size="4.0" fill="#fff" fill-opacity="0.3" stroke="#fff" stroke-width="0.07" stroke-opacity="0.21">Other protein kinase group</text>
<text x="0" y="0" transform="translate(358.42,75.05) rotate(334.30)" text-anchor="middle" dy="0.35em" font-family="Liberation Sans, sans-serif" font-size="4.0" fill="#fff" fill-opacity="0.3" stroke="#fff" stroke-width="0.07" stroke-opacity="0.21">AGC protein kinase group</text>
<text x="0" y="0" transform="translate(340.06,86.66) rotate(321.10)" text-anchor="middle" dy="0.35em" font-family="Liberation Sans, sans-serif" font-size="4.0" fill="#fff" fill-opacity="0.3" stroke="#fff" stroke-width="0.07" stroke-opacity="0.21">CAMK protein kinase group</text>
<text x="0" y="0" transform="translate(351.12,153.42) rotate(8.00)" text-anchor="middle" dy="0.35em" font-family="Liberation Sans, sans-serif" font-size="4.55" fill="#fff" fill-opacity="0.95" stroke="#fff" stroke-width="0.07" stroke-opacity="0.66">Transferase</text>
<text x="0" y="0" transform="translate(350.66,161.05) rotate(-1.00)" text-anchor="middle" dy="0.35em" font-family="Liberation Sans, sans-serif" font-size="4.55" fill="#fff" fill-opacity="0.9" stroke="#fff" stroke-width="0.07" stroke-opacity="0.63">Lyase</text>
<text x="0" y="0" transform="translate(351.19,167.41) rotate(-8.50)" text-anchor="middle" dy="0.35em" font-family="Liberation Sans, sans-serif" font-size="4.55" fill="#fff" fill-opacity="0.8" stroke="#fff" stroke-width="0.07" stroke-opacity="0.56">Isomerase</text>
<text x="0" y="0" transform="translate(352.31,172.82) rotate(-15.00)" text-anchor="middle" dy="0.35em" font-family="Liberation Sans, sans-serif" font-size="4.55" fill="#fff" fill-opacity="0.8" stroke="#fff" stroke-width="0.07" stroke-opacity="0.56">Hydrolase</text>
<text x="0" y="0" transform="translate(353.89,177.67) rotate(-21.00)" text-anchor="middle" dy="0.35em" font-family="Liberation Sans, sans-serif" font-size="4.55" fill="#fff" fill-opacity="0.8" stroke="#fff" stroke-width="0.07" stroke-opacity="0.56">Protease</text>
<text x="0" y="0" transform="translate(355.77,181.95) rotate(-26.50)" text-anchor="middle" dy="0.35em" font-family="Liberation Sans, sans-serif" font-size="3.6" fill="#fff" fill-opacity="0.7" stroke="#fff" stroke-width="0.07" stroke-opacity="0.49">Oxidoreductase</text>
<line x1="413.63" y1="238.17" x2="416.62" y2="254.54" stroke="#5a2d00" stroke-width="0.5" stroke-opacity="0.45"/>
<line x1="416.72" y1="237.54" x2="420.36" y2="253.78" stroke="#5a2d00" stroke-width="0.5" stroke-opacity="0.45"/>
<line x1="421.00" y1="236.46" x2="425.54" y2="252.46" stroke="#5a2d00" stroke-width="0.5" stroke-opacity="0.4"/>
<line x1="422.32" y1="216.37" x2="428.24" y2="230.86" stroke="#5a2d00" stroke-width="0.5" stroke-opacity="0.4"/>
<line x1="414.54" y1="218.95" x2="418.44" y2="234.11" stroke="#5a2d00" stroke-width="0.5" stroke-opacity="0.35"/>
<text x="0" y="0" transform="translate(443.75,181.04) rotate(25.17)" text-anchor="middle" dy="0.35em" font-family="Liberation Sans, sans-serif" font-size="4.55" fill="#fff" fill-opacity="0.8" stroke="#fff" stroke-width="0.07" stroke-opacity="0.56">Eraser</text>
<text x="0" y="0" transform="translate(446.53,173.62) rotate(15.90)" text-anchor="middle" dy="0.35em" font-family="Liberation Sans, sans-serif" font-size="4.0" fill="#fff" fill-opacity="0.6" stroke="#fff" stroke-width="0.07" stroke-opacity="0.42">Reader</text>
<text x="0" y="0" transform="translate(426.55,172.96) rotate(25.17)" text-anchor="middle" dy="0.35em" font-family="Liberation Sans, sans-serif" font-size="3.4" fill="#fff" fill-opacity="0.5" stroke="#fff" stroke-width="0.07" stroke-opacity="0.35">Epigenetic regulator</text>
<text x="0" y="0" transform="translate(395.42,187.11) rotate(8.42)" text-anchor="middle" dy="0.35em" font-family="Liberation Sans, sans-serif" font-size="4.55" fill="#5a2d00" fill-opacity="0.85" stroke="#5a2d00" stroke-width="0.07" stroke-opacity="0.59">Membrane receptor</text>
<text x="0" y="0" transform="translate(389.42,203.98) rotate(12.85)" text-anchor="middle" dy="0.35em" font-family="Liberation Sans, sans-serif" font-size="4.55" fill="#5a2d00" fill-opacity="0.85" stroke="#5a2d00" stroke-width="0.07" stroke-opacity="0.59">Family A G protein-coupled receptor</text>
<text x="0" y="0" transform="translate(381.18,219.88) rotate(16.98)" text-anchor="middle" dy="0.35em" font-family="Liberation Sans, sans-serif" font-size="4.55" fill="#5a2d00" fill-opacity="0.85" stroke="#5a2d00" stroke-width="0.07" stroke-opacity="0.59">Small molecule receptor (family A GPCR)</text>
<text x="0" y="0" transform="translate(368.41,238.49) rotate(21.60)" text-anchor="middle" dy="0.35em" font-family="Liberation Sans, sans-serif" font-size="4.55" fill="#5a2d00" fill-opacity="0.85" stroke="#5a2d00" stroke-width="0.07" stroke-opacity="0.59">Monoamine receptor</text>
<text x="0" y="0" transform="translate(322.82,242.61) rotate(42.90)" text-anchor="middle" dy="0.35em" font-family="Liberation Sans, sans-serif" font-size="4.55" fill="#5a2d00" fill-opacity="0.7" stroke="#5a2d00" stroke-width="0.07" stroke-opacity="0.49">Serotonin receptor</text>
<text x="0" y="0" transform="translate(350.56,261.54) rotate(25.73)" text-anchor="middle" dy="0.35em" font-family="Liberation Sans, sans-serif" font-size="4.55" fill="#5a2d00" fill-opacity="0.7" stroke="#5a2d00" stroke-width="0.07" stroke-opacity="0.49">Adrenergic receptor</text>
<text x="0" y="0" transform="translate(376.23,270.29) rotate(11.88)" text-anchor="middle" dy="0.35em" font-family="Liberation Sans, sans-serif" font-size="4.0" fill="#5a2d00" fill-opacity="0.65" stroke="#5a2d00" stroke-width="0.07" stroke-opacity="0.45">Dopamine receptor</text>
<text x="0" y="0" transform="translate(393.06,272.52) rotate(3.23)" text-anchor="middle" dy="0.35em" font-family="Liberation Sans, sans-serif" font-size="3.4" fill="#5a2d00" fill-opacity="0.5" stroke="#5a2d00" stroke-width="0.07" stroke-opacity="0.35">Histamine</text>
<text x="0" y="0" transform="translate(403.44,272.63) rotate(-2.06)" text-anchor="middle" dy="0.35em" font-family="Liberation Sans, sans-serif" font-size="3.2" fill="#5a2d00" fill-opacity="0.5" stroke="#5a2d00" stroke-width="0.07" stroke-opacity="0.35">Muscarinic</text>
<text x="22.6" y="9.9" font-family="Liberation Sans, sans-serif" font-weight="bold" font-size="12.5" fill="#111">a</text>
<text x="286" y="9.9" font-family="Liberation Sans, sans-serif" font-weight="bold" font-size="12.5" fill="#111">b</text>
</svg></body></html>
